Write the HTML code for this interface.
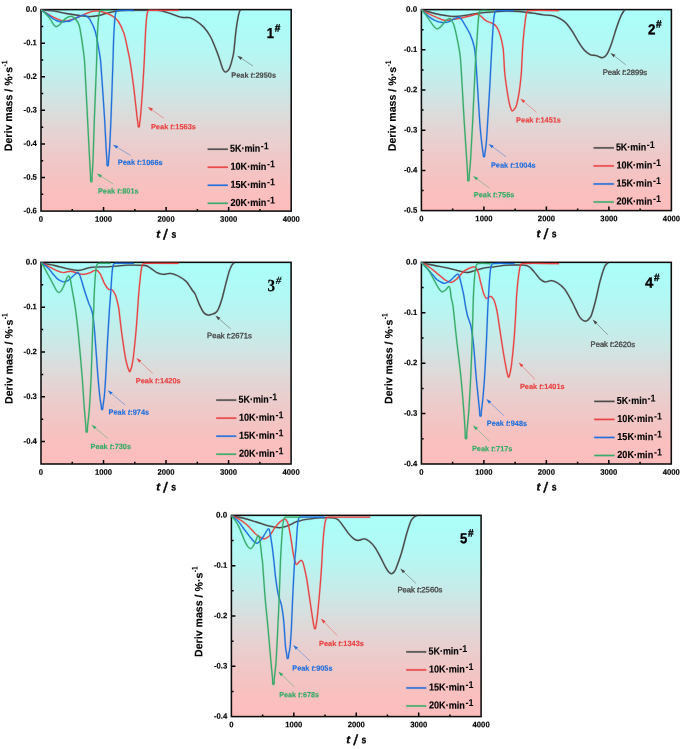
<!DOCTYPE html>
<html><head><meta charset="utf-8"><title>Deriv mass curves</title>
<style>html,body{margin:0;padding:0;background:#fff}svg{display:block}text{font-family:"Liberation Sans", sans-serif}text.sf{font-family:"Liberation Serif",serif}</style></head><body>
<svg width="685" height="749" viewBox="0 0 685 749">
<defs><linearGradient id="bg" x1="0" y1="0" x2="0" y2="1"><stop offset="0" stop-color="#AAFFFA"/><stop offset="0.05" stop-color="#ACFDF8"/><stop offset="0.1" stop-color="#AFFBF7"/><stop offset="0.15" stop-color="#B1F9F5"/><stop offset="0.2" stop-color="#B5F7F3"/><stop offset="0.25" stop-color="#B9F4F0"/><stop offset="0.3" stop-color="#BFF0ED"/><stop offset="0.35" stop-color="#C5ECEA"/><stop offset="0.4" stop-color="#CBE8E6"/><stop offset="0.45" stop-color="#D2E3E2"/><stop offset="0.5" stop-color="#D8DEDD"/><stop offset="0.55" stop-color="#DED9D8"/><stop offset="0.6" stop-color="#E4D4D4"/><stop offset="0.65" stop-color="#E8D0CF"/><stop offset="0.7" stop-color="#ECCBCB"/><stop offset="0.75" stop-color="#F0C8C7"/><stop offset="0.8" stop-color="#F3C4C4"/><stop offset="0.85" stop-color="#F6C2C1"/><stop offset="0.9" stop-color="#F9C0BF"/><stop offset="0.95" stop-color="#FBBEBE"/><stop offset="1" stop-color="#FDBCBC"/></linearGradient></defs>
<rect width="685" height="749" fill="#fff"/>
<g>
<rect x="41" y="9.6" width="250.2" height="201.5" fill="url(#bg)"/>
<path d="M72.28 211.1 v-2.2M103.55 211.1 v-4M134.82 211.1 v-2.2M166.1 211.1 v-4M197.38 211.1 v-2.2M228.65 211.1 v-4M259.92 211.1 v-2.2M41 26.39 h2.2M41 43.18 h4M41 59.98 h2.2M41 76.77 h4M41 93.56 h2.2M41 110.35 h4M41 127.14 h2.2M41 143.93 h4M41 160.73 h2.2M41 177.52 h4M41 194.31 h2.2" stroke="#000" stroke-width="1.5" fill="none"/>
<rect x="41" y="9.6" width="250.2" height="201.5" fill="none" stroke="#0d0d0d" stroke-width="1.55"/>
<path d="M41.2 9.9C43.18 10.07 48.92 10.3 53.1 10.9C57.28 11.5 61.92 12.73 66.3 13.5C70.68 14.27 75.47 14.98 79.4 15.5C83.33 16.02 86.62 16.6 89.9 16.6C93.18 16.6 96.47 16.02 99.1 15.5C101.73 14.98 103.28 14.15 105.7 13.5C108.12 12.85 110.88 12.09 113.6 11.6C116.32 11.11 118.62 10.74 122 10.55C125.4 10.36 129.2 10.46 134 10.45C139.98 10.43 152.17 10.04 157.9 10.45C162.2 10.76 165.12 11.94 168.4 12.9C171.68 13.86 175.2 15.43 177.6 16.2C179.64 16.85 180.83 17.25 182.8 17.5C184.77 17.75 187.2 17.15 189.4 17.7C191.6 18.25 193.6 19.2 196 20.8C198.4 22.4 201.4 24.68 203.8 27.3C206.2 29.92 208.53 33.22 210.4 36.5C212.27 39.78 213.72 43.93 215 47C216.28 50.07 217.13 52.22 218.1 54.9C219.07 57.58 219.98 60.67 220.8 63.1C221.62 65.53 222.23 68 223 69.5C223.64 70.76 224.57 71.93 225.4 72.1C226.23 72.27 227.23 71.33 228 70.5C228.77 69.67 229.46 68.58 230 67.1C230.77 65 231.95 60.58 232.6 57.9C233.25 55.22 233.55 53.79 233.9 51C234.45 46.57 235.23 36.78 235.9 31.3C236.54 26 237.28 21.45 237.9 18.1C238.41 15.3 239.08 12.53 239.6 11.2C239.86 10.54 240.77 10.28 241 10.1" stroke="#4A4A4A" stroke-width="2.1" stroke-opacity="0.22" fill="none" stroke-linejoin="round"/>
<path d="M41.2 9.9C43.18 10.07 48.92 10.3 53.1 10.9C57.28 11.5 61.92 12.73 66.3 13.5C70.68 14.27 75.47 14.98 79.4 15.5C83.33 16.02 86.62 16.6 89.9 16.6C93.18 16.6 96.47 16.02 99.1 15.5C101.73 14.98 103.28 14.15 105.7 13.5C108.12 12.85 110.88 12.09 113.6 11.6C116.32 11.11 118.62 10.74 122 10.55C125.4 10.36 129.2 10.46 134 10.45C139.98 10.43 152.17 10.04 157.9 10.45C162.2 10.76 165.12 11.94 168.4 12.9C171.68 13.86 175.2 15.43 177.6 16.2C179.64 16.85 180.83 17.25 182.8 17.5C184.77 17.75 187.2 17.15 189.4 17.7C191.6 18.25 193.6 19.2 196 20.8C198.4 22.4 201.4 24.68 203.8 27.3C206.2 29.92 208.53 33.22 210.4 36.5C212.27 39.78 213.72 43.93 215 47C216.28 50.07 217.13 52.22 218.1 54.9C219.07 57.58 219.98 60.67 220.8 63.1C221.62 65.53 222.23 68 223 69.5C223.64 70.76 224.57 71.93 225.4 72.1C226.23 72.27 227.23 71.33 228 70.5C228.77 69.67 229.46 68.58 230 67.1C230.77 65 231.95 60.58 232.6 57.9C233.25 55.22 233.55 53.79 233.9 51C234.45 46.57 235.23 36.78 235.9 31.3C236.54 26 237.28 21.45 237.9 18.1C238.41 15.3 239.08 12.53 239.6 11.2C239.86 10.54 240.77 10.28 241 10.1" stroke="#4A4A4A" stroke-width="1.35" fill="none" stroke-linejoin="round"/>
<path d="M41.2 9.9C42.17 10.5 45.03 12.32 47 13.5C48.97 14.68 50.83 15.92 53 17C55.17 18.08 57.78 19.33 60 20C62.22 20.67 64.3 21.08 66.3 21C68.3 20.92 69.82 20.23 72 19.5C74.18 18.77 76.46 17.8 79.4 16.6C82.38 15.38 87.05 13.15 89.9 12.2C92.45 11.35 93.87 10.78 96.5 10.9C99.13 11.02 102.85 11.92 105.7 12.9C108.55 13.88 111.42 15.27 113.6 16.8C115.78 18.33 117.25 19.57 118.8 22.1C120.55 24.95 122.57 29.08 124.1 33.9C125.63 38.72 127.02 46.48 128 51C128.87 54.99 129.36 56.97 130 61C130.93 66.88 132.68 79.3 133.6 86.3C134.47 92.97 134.92 97.8 135.5 103C136.08 108.2 136.67 113.95 137.1 117.5C137.43 120.23 137.94 122.95 138.1 124.3C138.16 124.82 138 125.18 138.05 125.6C138.1 126.03 138.21 126.64 138.4 126.85C138.59 127.06 139.01 127.06 139.2 126.85C139.39 126.64 139.5 126.03 139.55 125.6C139.6 125.18 139.45 124.82 139.5 124.3C139.64 122.95 140.13 120.23 140.4 117.5C140.75 113.95 141.2 108.25 141.6 103C142 97.75 142.37 92.8 142.8 86C143.23 79.17 143.83 69 144.2 62C144.57 55 144.7 50.22 145 44C145.3 37.78 145.62 29.87 146 24.7C146.35 20 146.8 15.38 147.3 13C147.55 11.8 147.78 10.55 149 10.45C154.27 10.02 173.92 10.45 178.9 10.45" stroke="#E94242" stroke-width="2.1" stroke-opacity="0.22" fill="none" stroke-linejoin="round"/>
<path d="M41.2 9.9C42.17 10.5 45.03 12.32 47 13.5C48.97 14.68 50.83 15.92 53 17C55.17 18.08 57.78 19.33 60 20C62.22 20.67 64.3 21.08 66.3 21C68.3 20.92 69.82 20.23 72 19.5C74.18 18.77 76.46 17.8 79.4 16.6C82.38 15.38 87.05 13.15 89.9 12.2C92.45 11.35 93.87 10.78 96.5 10.9C99.13 11.02 102.85 11.92 105.7 12.9C108.55 13.88 111.42 15.27 113.6 16.8C115.78 18.33 117.25 19.57 118.8 22.1C120.55 24.95 122.57 29.08 124.1 33.9C125.63 38.72 127.02 46.48 128 51C128.87 54.99 129.36 56.97 130 61C130.93 66.88 132.68 79.3 133.6 86.3C134.47 92.97 134.92 97.8 135.5 103C136.08 108.2 136.67 113.95 137.1 117.5C137.43 120.23 137.94 122.95 138.1 124.3C138.16 124.82 138 125.18 138.05 125.6C138.1 126.03 138.21 126.64 138.4 126.85C138.59 127.06 139.01 127.06 139.2 126.85C139.39 126.64 139.5 126.03 139.55 125.6C139.6 125.18 139.45 124.82 139.5 124.3C139.64 122.95 140.13 120.23 140.4 117.5C140.75 113.95 141.2 108.25 141.6 103C142 97.75 142.37 92.8 142.8 86C143.23 79.17 143.83 69 144.2 62C144.57 55 144.7 50.22 145 44C145.3 37.78 145.62 29.87 146 24.7C146.35 20 146.8 15.38 147.3 13C147.55 11.8 147.78 10.55 149 10.45C154.27 10.02 173.92 10.45 178.9 10.45" stroke="#E94242" stroke-width="1.25" fill="none" stroke-linejoin="round"/>
<path d="M41.2 9.9C42.17 10.58 45.2 12.65 47 14C48.8 15.35 50.33 16.87 52 18C53.67 19.13 55.38 20.17 57 20.8C58.62 21.43 60.2 21.68 61.7 21.8C63.2 21.92 64.58 21.67 66 21.5C67.42 21.33 68.59 21.36 70.2 20.8C71.87 20.22 74.03 18.88 76 18C77.97 17.12 80.58 15.95 82 15.5C82.96 15.2 83.67 15.13 84.5 15.3C85.33 15.47 86.12 15.82 87 16.5C87.9 17.2 89.09 18.04 89.9 19.5C91.27 21.97 93.75 26.33 95.2 31.3C96.73 36.55 98.18 45.88 99.1 51C99.88 55.38 100.34 57.57 100.7 62C101.6 73.08 103.6 103.18 104.5 117.5C105.26 129.65 105.68 140.57 106.1 147.9C106.41 153.34 106.86 158.75 107 161.5C107.06 162.66 106.9 163.71 106.95 164.4C106.99 164.92 107.11 165.44 107.3 165.65C107.49 165.86 107.91 165.86 108.1 165.65C108.29 165.44 108.4 164.92 108.45 164.4C108.52 163.71 108.42 162.66 108.5 161.5C108.69 158.75 109.29 153.35 109.6 147.9C110.02 140.65 110.54 129.96 111 118C111.57 103.35 112.55 73.37 113 60C113.3 51.12 113.38 44.78 113.7 37.8C114.02 30.82 114.52 22.4 114.9 18.1C115.12 15.63 115.57 13.28 116 12C116.28 11.18 116.64 10.52 117.5 10.45C120.53 10.19 131.42 10.45 134.2 10.45" stroke="#1F6FDC" stroke-width="2.1" stroke-opacity="0.22" fill="none" stroke-linejoin="round"/>
<path d="M41.2 9.9C42.17 10.58 45.2 12.65 47 14C48.8 15.35 50.33 16.87 52 18C53.67 19.13 55.38 20.17 57 20.8C58.62 21.43 60.2 21.68 61.7 21.8C63.2 21.92 64.58 21.67 66 21.5C67.42 21.33 68.59 21.36 70.2 20.8C71.87 20.22 74.03 18.88 76 18C77.97 17.12 80.58 15.95 82 15.5C82.96 15.2 83.67 15.13 84.5 15.3C85.33 15.47 86.12 15.82 87 16.5C87.9 17.2 89.09 18.04 89.9 19.5C91.27 21.97 93.75 26.33 95.2 31.3C96.73 36.55 98.18 45.88 99.1 51C99.88 55.38 100.34 57.57 100.7 62C101.6 73.08 103.6 103.18 104.5 117.5C105.26 129.65 105.68 140.57 106.1 147.9C106.41 153.34 106.86 158.75 107 161.5C107.06 162.66 106.9 163.71 106.95 164.4C106.99 164.92 107.11 165.44 107.3 165.65C107.49 165.86 107.91 165.86 108.1 165.65C108.29 165.44 108.4 164.92 108.45 164.4C108.52 163.71 108.42 162.66 108.5 161.5C108.69 158.75 109.29 153.35 109.6 147.9C110.02 140.65 110.54 129.96 111 118C111.57 103.35 112.55 73.37 113 60C113.3 51.12 113.38 44.78 113.7 37.8C114.02 30.82 114.52 22.4 114.9 18.1C115.12 15.63 115.57 13.28 116 12C116.28 11.18 116.64 10.52 117.5 10.45C120.53 10.19 131.42 10.45 134.2 10.45" stroke="#1F6FDC" stroke-width="1.25" fill="none" stroke-linejoin="round"/>
<path d="M41.2 9.9C41.92 10.5 43.95 11.9 45.5 13.5C47.05 15.1 49.17 17.67 50.5 19.5C51.83 21.33 52.58 23.3 53.5 24.5C54.31 25.56 55.08 26.58 56 26.7C56.92 26.82 57.96 26.05 59 25.2C60.17 24.25 61.67 22.27 63 21C64.33 19.73 65.58 18.37 67 17.6C68.42 16.83 70.08 16.17 71.5 16.4C72.92 16.63 74.29 17.53 75.5 19C76.82 20.6 78.63 22.89 79.4 26C80.72 31.33 82.53 45 83.4 51C84.03 55.38 84.33 57.58 84.6 62C85.28 73.17 86.65 101.5 87.5 118C88.35 134.5 89.18 151.17 89.7 161C90.04 167.4 90.46 173.77 90.6 177C90.66 178.36 90.5 179.62 90.55 180.4C90.58 180.92 90.71 181.44 90.9 181.65C91.09 181.86 91.51 181.86 91.7 181.65C91.89 181.44 92.02 180.92 92.05 180.4C92.1 179.62 91.93 178.36 92 177C92.16 173.77 92.74 167.41 93 161C93.4 151.17 93.8 134.5 94.4 118C95 101.5 96.13 75.37 96.6 62C96.94 52.32 96.88 45.12 97.2 37.8C97.52 30.48 98.1 22.4 98.5 18.1C98.73 15.63 99.18 13.28 99.6 12C99.86 11.21 100.17 10.56 101 10.45C102.9 10.19 109.33 10.45 111 10.45" stroke="#37AB69" stroke-width="2.1" stroke-opacity="0.22" fill="none" stroke-linejoin="round"/>
<path d="M41.2 9.9C41.92 10.5 43.95 11.9 45.5 13.5C47.05 15.1 49.17 17.67 50.5 19.5C51.83 21.33 52.58 23.3 53.5 24.5C54.31 25.56 55.08 26.58 56 26.7C56.92 26.82 57.96 26.05 59 25.2C60.17 24.25 61.67 22.27 63 21C64.33 19.73 65.58 18.37 67 17.6C68.42 16.83 70.08 16.17 71.5 16.4C72.92 16.63 74.29 17.53 75.5 19C76.82 20.6 78.63 22.89 79.4 26C80.72 31.33 82.53 45 83.4 51C84.03 55.38 84.33 57.58 84.6 62C85.28 73.17 86.65 101.5 87.5 118C88.35 134.5 89.18 151.17 89.7 161C90.04 167.4 90.46 173.77 90.6 177C90.66 178.36 90.5 179.62 90.55 180.4C90.58 180.92 90.71 181.44 90.9 181.65C91.09 181.86 91.51 181.86 91.7 181.65C91.89 181.44 92.02 180.92 92.05 180.4C92.1 179.62 91.93 178.36 92 177C92.16 173.77 92.74 167.41 93 161C93.4 151.17 93.8 134.5 94.4 118C95 101.5 96.13 75.37 96.6 62C96.94 52.32 96.88 45.12 97.2 37.8C97.52 30.48 98.1 22.4 98.5 18.1C98.73 15.63 99.18 13.28 99.6 12C99.86 11.21 100.17 10.56 101 10.45C102.9 10.19 109.33 10.45 111 10.45" stroke="#37AB69" stroke-width="1.25" fill="none" stroke-linejoin="round"/>
<text transform="translate(36.9 11.8) matrix(1 0.003 0 1 0 0)" font-size="8" font-weight="bold" fill="#000" text-anchor="end" textLength="11.2" lengthAdjust="spacingAndGlyphs" stroke="#000" stroke-width="0.15">0.0</text>
<text transform="translate(36.9 45.38) matrix(1 0.003 0 1 0 0)" font-size="8" font-weight="bold" fill="#000" text-anchor="end" textLength="13.3" lengthAdjust="spacingAndGlyphs" stroke="#000" stroke-width="0.15">-0.1</text>
<text transform="translate(36.9 78.97) matrix(1 0.003 0 1 0 0)" font-size="8" font-weight="bold" fill="#000" text-anchor="end" textLength="13.3" lengthAdjust="spacingAndGlyphs" stroke="#000" stroke-width="0.15">-0.2</text>
<text transform="translate(36.9 112.55) matrix(1 0.003 0 1 0 0)" font-size="8" font-weight="bold" fill="#000" text-anchor="end" textLength="13.3" lengthAdjust="spacingAndGlyphs" stroke="#000" stroke-width="0.15">-0.3</text>
<text transform="translate(36.9 146.13) matrix(1 0.003 0 1 0 0)" font-size="8" font-weight="bold" fill="#000" text-anchor="end" textLength="13.3" lengthAdjust="spacingAndGlyphs" stroke="#000" stroke-width="0.15">-0.4</text>
<text transform="translate(36.9 179.72) matrix(1 0.003 0 1 0 0)" font-size="8" font-weight="bold" fill="#000" text-anchor="end" textLength="13.3" lengthAdjust="spacingAndGlyphs" stroke="#000" stroke-width="0.15">-0.5</text>
<text transform="translate(36.9 213.3) matrix(1 0.003 0 1 0 0)" font-size="8" font-weight="bold" fill="#000" text-anchor="end" textLength="13.3" lengthAdjust="spacingAndGlyphs" stroke="#000" stroke-width="0.15">-0.6</text>
<text transform="translate(41 221.8) matrix(1 0.003 0 1 0 0)" font-size="8" font-weight="bold" fill="#000" text-anchor="middle" textLength="4.3" lengthAdjust="spacingAndGlyphs" stroke="#000" stroke-width="0.15">0</text>
<text transform="translate(103.55 221.8) matrix(1 0.003 0 1 0 0)" font-size="8" font-weight="bold" fill="#000" text-anchor="middle" textLength="17.1" lengthAdjust="spacingAndGlyphs" stroke="#000" stroke-width="0.15">1000</text>
<text transform="translate(166.1 221.8) matrix(1 0.003 0 1 0 0)" font-size="8" font-weight="bold" fill="#000" text-anchor="middle" textLength="17.1" lengthAdjust="spacingAndGlyphs" stroke="#000" stroke-width="0.15">2000</text>
<text transform="translate(228.65 221.8) matrix(1 0.003 0 1 0 0)" font-size="8" font-weight="bold" fill="#000" text-anchor="middle" textLength="17.1" lengthAdjust="spacingAndGlyphs" stroke="#000" stroke-width="0.15">3000</text>
<text transform="translate(291.2 221.8) matrix(1 0.003 0 1 0 0)" font-size="8" font-weight="bold" fill="#000" text-anchor="middle" textLength="17.1" lengthAdjust="spacingAndGlyphs" stroke="#000" stroke-width="0.15">4000</text>
<text transform="translate(156.2 237.7) matrix(1 0.003 0 1 0 0)" font-size="11" font-weight="bold" fill="#000" textLength="3.9" lengthAdjust="spacingAndGlyphs" font-style="italic" stroke="#000" stroke-width="0.3">t</text>
<text transform="translate(163.1 239.5) matrix(1 0.003 0 1 0 0)" font-size="14.5" font-weight="normal" fill="#000" textLength="4.9" lengthAdjust="spacingAndGlyphs" stroke="#000" stroke-width="0.3">/</text>
<text transform="translate(171.4 237.7) matrix(1 0.003 0 1 0 0)" font-size="10.6" font-weight="bold" fill="#000" textLength="4.8" lengthAdjust="spacingAndGlyphs" stroke="#000" stroke-width="0.3">s</text>
<g transform="translate(12 151.2) rotate(-90)">
<text transform="translate(0 0) matrix(1 0.003 0 1 0 0)" font-size="10.8" font-weight="bold" fill="#000" textLength="84.3" lengthAdjust="spacingAndGlyphs" stroke="#000" stroke-width="0.15">Deriv mass / %·s</text>
<text transform="translate(84.7 -4.8) matrix(1 0.003 0 1 0 0)" font-size="8.2" font-weight="bold" fill="#000" textLength="6" lengthAdjust="spacingAndGlyphs">-1</text>
</g>
<path d="M207.6 149.2 H227.9" stroke="#4A4A4A" stroke-width="2.3" stroke-opacity="0.25"/>
<path d="M207.6 149.2 H227.9" stroke="#4A4A4A" stroke-width="1.4"/>
<text transform="translate(230 151.8) matrix(1 0.003 0 1 0 0)" font-size="10.2" font-weight="bold" fill="#000" textLength="30.3" lengthAdjust="spacingAndGlyphs" stroke="#000" stroke-width="0.15">5K·min</text>
<text transform="translate(260.8 149.3) matrix(1 0.003 0 1 0 0)" font-size="9.9" font-weight="bold" fill="#000" textLength="8" lengthAdjust="spacingAndGlyphs">-1</text>
<path d="M207.6 167.23 H227.9" stroke="#E94242" stroke-width="2.3" stroke-opacity="0.25"/>
<path d="M207.6 167.23 H227.9" stroke="#E94242" stroke-width="1.4"/>
<text transform="translate(230.5 169.83) matrix(1 0.003 0 1 0 0)" font-size="10.2" font-weight="bold" fill="#000" textLength="35.9" lengthAdjust="spacingAndGlyphs" stroke="#000" stroke-width="0.15">10K·min</text>
<text transform="translate(267.1 167.33) matrix(1 0.003 0 1 0 0)" font-size="9.9" font-weight="bold" fill="#000" textLength="8" lengthAdjust="spacingAndGlyphs">-1</text>
<path d="M207.6 185.26 H227.9" stroke="#1F6FDC" stroke-width="2.3" stroke-opacity="0.25"/>
<path d="M207.6 185.26 H227.9" stroke="#1F6FDC" stroke-width="1.4"/>
<text transform="translate(230.5 187.86) matrix(1 0.003 0 1 0 0)" font-size="10.2" font-weight="bold" fill="#000" textLength="35.9" lengthAdjust="spacingAndGlyphs" stroke="#000" stroke-width="0.15">15K·min</text>
<text transform="translate(267.1 185.36) matrix(1 0.003 0 1 0 0)" font-size="9.9" font-weight="bold" fill="#000" textLength="8" lengthAdjust="spacingAndGlyphs">-1</text>
<path d="M207.6 203.29 H227.9" stroke="#37AB69" stroke-width="2.3" stroke-opacity="0.25"/>
<path d="M207.6 203.29 H227.9" stroke="#37AB69" stroke-width="1.4"/>
<text transform="translate(230.5 205.89) matrix(1 0.003 0 1 0 0)" font-size="10.2" font-weight="bold" fill="#000" textLength="35.9" lengthAdjust="spacingAndGlyphs" stroke="#000" stroke-width="0.15">20K·min</text>
<text transform="translate(267.1 203.39) matrix(1 0.003 0 1 0 0)" font-size="9.9" font-weight="bold" fill="#000" textLength="8" lengthAdjust="spacingAndGlyphs">-1</text>
<text transform="translate(266.8 38.1) matrix(1 0.003 0 1 0 0)" font-size="14.5" font-weight="bold" fill="#000" textLength="7.2" lengthAdjust="spacingAndGlyphs" stroke="#000" stroke-width="0.3">1</text>
<text transform="translate(274.7 31.5) matrix(1 0.003 0 1 0 0)" font-size="10.5" font-weight="bold" fill="#000" textLength="5.6" lengthAdjust="spacingAndGlyphs" stroke="#000" stroke-width="0.35">#</text>
<text transform="translate(231.3 77.6) matrix(1 0.003 0 1 0 0)" font-size="7.6" font-weight="bold" fill="#4A4A4A" textLength="44.7" lengthAdjust="spacingAndGlyphs" stroke="#4A4A4A" stroke-width="0.15">Peak <tspan font-style="italic">t</tspan>:2950s</text>
<path d="M253 66 L241.56 58.54" stroke="#4A4A4A" stroke-width="0.45" fill="none"/>
<path d="M237.2 55.7L240.68 59.88L242.43 57.2Z" fill="#4A4A4A"/>
<text transform="translate(150.9 129.2) matrix(1 0.003 0 1 0 0)" font-size="7.6" font-weight="bold" fill="#E94242" textLength="45.1" lengthAdjust="spacingAndGlyphs" stroke="#E94242" stroke-width="0.15">Peak <tspan font-style="italic">t</tspan>:1563s</text>
<path d="M163.9 118.3 L152.04 109.9" stroke="#E94242" stroke-width="0.45" fill="none"/>
<path d="M147.8 106.9L151.12 111.21L152.97 108.6Z" fill="#E94242"/>
<text transform="translate(117.7 164.8) matrix(1 0.003 0 1 0 0)" font-size="7.6" font-weight="bold" fill="#1F6FDC" textLength="45" lengthAdjust="spacingAndGlyphs" stroke="#1F6FDC" stroke-width="0.15">Peak <tspan font-style="italic">t</tspan>:1066s</text>
<path d="M130.6 155.4 L117.35 147.39" stroke="#1F6FDC" stroke-width="0.45" fill="none"/>
<path d="M112.9 144.7L116.52 148.76L118.18 146.02Z" fill="#1F6FDC"/>
<text transform="translate(97.9 193.5) matrix(1 0.003 0 1 0 0)" font-size="7.6" font-weight="bold" fill="#37AB69" textLength="40.8" lengthAdjust="spacingAndGlyphs" stroke="#37AB69" stroke-width="0.15">Peak <tspan font-style="italic">t</tspan>:801s</text>
<path d="M113.2 184 L101.1 176.37" stroke="#37AB69" stroke-width="0.45" fill="none"/>
<path d="M96.7 173.6L100.25 177.73L101.95 175.02Z" fill="#37AB69"/>
</g>
<g>
<rect x="421.4" y="9.6" width="250" height="201" fill="url(#bg)"/>
<path d="M452.65 210.6 v-2.2M483.9 210.6 v-4M515.15 210.6 v-2.2M546.4 210.6 v-4M577.65 210.6 v-2.2M608.9 210.6 v-4M640.15 210.6 v-2.2M421.4 29.7 h2.2M421.4 49.8 h4M421.4 69.9 h2.2M421.4 90 h4M421.4 110.1 h2.2M421.4 130.2 h4M421.4 150.3 h2.2M421.4 170.4 h4M421.4 190.5 h2.2" stroke="#000" stroke-width="1.5" fill="none"/>
<rect x="421.4" y="9.6" width="250" height="201" fill="none" stroke="#0d0d0d" stroke-width="1.55"/>
<path d="M421.5 9.8C423.7 10.42 430.3 12.48 434.7 13.5C439.1 14.52 444.62 15.4 447.9 15.9C450.48 16.29 451.79 16.61 454.4 16.5C457.68 16.37 463.65 15.65 467.6 15.1C471.55 14.55 473.86 13.72 478.1 13.2C482.47 12.67 489.32 12.23 493.8 11.9C498.28 11.57 500.68 11.27 505 11.2C509.32 11.13 515.05 11.17 519.7 11.5C524.35 11.83 528.95 12.65 532.9 13.2C536.85 13.75 540.12 14.38 543.4 14.8C546.68 15.22 549.98 15.15 552.6 15.7C555.22 16.25 556.92 16.93 559.1 18.1C561.28 19.27 563.5 20.5 565.7 22.7C567.9 24.9 570.12 28.02 572.3 31.3C574.48 34.58 576.82 39.28 578.8 42.4C580.78 45.52 582.32 47.97 584.2 50C586.08 52.03 588.12 53.67 590.1 54.6C592.08 55.53 594.02 55.08 596.1 55.6C598.18 56.12 600.78 57.95 602.6 57.7C604.42 57.45 605.78 56.02 607 54.1C608.47 51.8 609.89 48.08 611.4 43.9C612.98 39.52 614.92 32.43 616.5 27.8C618.08 23.17 619.73 18.82 620.9 16.1C621.73 14.16 622.82 12.5 623.5 11.5C623.96 10.82 624.75 10.33 625 10.1" stroke="#4A4A4A" stroke-width="2.1" stroke-opacity="0.22" fill="none" stroke-linejoin="round"/>
<path d="M421.5 9.8C423.7 10.42 430.3 12.48 434.7 13.5C439.1 14.52 444.62 15.4 447.9 15.9C450.48 16.29 451.79 16.61 454.4 16.5C457.68 16.37 463.65 15.65 467.6 15.1C471.55 14.55 473.86 13.72 478.1 13.2C482.47 12.67 489.32 12.23 493.8 11.9C498.28 11.57 500.68 11.27 505 11.2C509.32 11.13 515.05 11.17 519.7 11.5C524.35 11.83 528.95 12.65 532.9 13.2C536.85 13.75 540.12 14.38 543.4 14.8C546.68 15.22 549.98 15.15 552.6 15.7C555.22 16.25 556.92 16.93 559.1 18.1C561.28 19.27 563.5 20.5 565.7 22.7C567.9 24.9 570.12 28.02 572.3 31.3C574.48 34.58 576.82 39.28 578.8 42.4C580.78 45.52 582.32 47.97 584.2 50C586.08 52.03 588.12 53.67 590.1 54.6C592.08 55.53 594.02 55.08 596.1 55.6C598.18 56.12 600.78 57.95 602.6 57.7C604.42 57.45 605.78 56.02 607 54.1C608.47 51.8 609.89 48.08 611.4 43.9C612.98 39.52 614.92 32.43 616.5 27.8C618.08 23.17 619.73 18.82 620.9 16.1C621.73 14.16 622.82 12.5 623.5 11.5C623.96 10.82 624.75 10.33 625 10.1" stroke="#4A4A4A" stroke-width="1.35" fill="none" stroke-linejoin="round"/>
<path d="M421.5 9.8C422.6 10.42 425.85 12.33 428.1 13.5C430.35 14.67 432.8 15.82 435 16.8C437.2 17.78 439.6 18.82 441.3 19.4C442.81 19.92 443.6 20.29 445.2 20.3C446.98 20.32 449.37 19.87 452 19.5C454.63 19.13 457.97 18.7 461 18.1C464.03 17.5 467.57 16.55 470.2 15.9C472.83 15.25 475.05 14.17 476.8 14.2C478.53 14.23 479.28 15.1 480.7 16.1C482.23 17.18 484.03 19.48 486 20.7C487.97 21.92 490.75 22.4 492.5 23.4C494.25 24.4 495.39 24.95 496.5 26.7C497.82 28.78 499.32 32.4 500.4 35.9C501.48 39.4 502.43 44.18 503 47.7C503.57 51.22 503.54 53.28 503.8 57C504.12 61.5 504.18 68.03 504.9 74.7C505.62 81.37 507.25 91.78 508.1 97C508.69 100.63 509.35 103.7 510 106C510.57 108 511.25 110.3 512 110.8C512.75 111.3 513.74 109.97 514.5 109C515.27 108.02 516.11 106.68 516.6 104.9C517.38 102.03 518.43 96.83 519.2 91.8C519.97 86.77 520.73 80 521.2 74.7C521.67 69.4 521.7 65.38 522 60C522.3 54.62 522.5 48.62 523 42.4C523.5 36.18 524.4 27.68 525 22.7C525.49 18.6 526.05 14.52 526.6 12.5C526.87 11.52 527.28 10.66 528.3 10.6C533.72 10.28 553.97 10.6 559.1 10.6" stroke="#E94242" stroke-width="2.1" stroke-opacity="0.22" fill="none" stroke-linejoin="round"/>
<path d="M421.5 9.8C422.6 10.42 425.85 12.33 428.1 13.5C430.35 14.67 432.8 15.82 435 16.8C437.2 17.78 439.6 18.82 441.3 19.4C442.81 19.92 443.6 20.29 445.2 20.3C446.98 20.32 449.37 19.87 452 19.5C454.63 19.13 457.97 18.7 461 18.1C464.03 17.5 467.57 16.55 470.2 15.9C472.83 15.25 475.05 14.17 476.8 14.2C478.53 14.23 479.28 15.1 480.7 16.1C482.23 17.18 484.03 19.48 486 20.7C487.97 21.92 490.75 22.4 492.5 23.4C494.25 24.4 495.39 24.95 496.5 26.7C497.82 28.78 499.32 32.4 500.4 35.9C501.48 39.4 502.43 44.18 503 47.7C503.57 51.22 503.54 53.28 503.8 57C504.12 61.5 504.18 68.03 504.9 74.7C505.62 81.37 507.25 91.78 508.1 97C508.69 100.63 509.35 103.7 510 106C510.57 108 511.25 110.3 512 110.8C512.75 111.3 513.74 109.97 514.5 109C515.27 108.02 516.11 106.68 516.6 104.9C517.38 102.03 518.43 96.83 519.2 91.8C519.97 86.77 520.73 80 521.2 74.7C521.67 69.4 521.7 65.38 522 60C522.3 54.62 522.5 48.62 523 42.4C523.5 36.18 524.4 27.68 525 22.7C525.49 18.6 526.05 14.52 526.6 12.5C526.87 11.52 527.28 10.66 528.3 10.6C533.72 10.28 553.97 10.6 559.1 10.6" stroke="#E94242" stroke-width="1.25" fill="none" stroke-linejoin="round"/>
<path d="M421.5 9.8C422.6 10.85 425.85 14.32 428.1 16.1C430.35 17.88 432.8 19.45 435 20.5C437.2 21.55 439.15 22.15 441.3 22.4C443.45 22.65 445.87 22.52 447.9 22C449.93 21.48 451.75 20.1 453.5 19.3C455.25 18.5 457.15 17.28 458.4 17.2C459.62 17.12 460.16 17.91 461 18.8C461.87 19.72 462.65 21.08 463.6 22.7C465.13 25.32 468.45 30.55 470.2 34.5C471.95 38.45 473.2 42.48 474.1 46.4C475 50.32 475.19 53.34 475.6 58C476.12 63.82 476.6 71.98 477.2 81.3C477.9 92.13 479.03 112.6 479.8 123C480.41 131.3 481.23 138.53 481.8 143.7C482.25 147.83 482.96 152.05 483.2 154C483.27 154.56 483.18 154.96 483.25 155.4C483.32 155.84 483.41 156.44 483.6 156.65C483.79 156.86 484.21 156.86 484.4 156.65C484.59 156.44 484.68 155.84 484.75 155.4C484.82 154.96 484.73 154.56 484.8 154C485.04 152.05 485.83 147.84 486.2 143.7C486.67 138.53 487.08 131.28 487.6 123C488.18 113.7 489.1 98.57 489.7 87.9C490.3 77.23 490.73 67.67 491.2 59C491.67 50.33 492.07 42.6 492.5 35.9C492.93 29.2 493.38 22.78 493.8 18.8C494.09 16.05 494.53 13.37 495 12C495.27 11.2 495.75 10.66 496.6 10.6C499.73 10.37 510.93 10.6 513.8 10.6" stroke="#1F6FDC" stroke-width="2.1" stroke-opacity="0.22" fill="none" stroke-linejoin="round"/>
<path d="M421.5 9.8C422.6 10.85 425.85 14.32 428.1 16.1C430.35 17.88 432.8 19.45 435 20.5C437.2 21.55 439.15 22.15 441.3 22.4C443.45 22.65 445.87 22.52 447.9 22C449.93 21.48 451.75 20.1 453.5 19.3C455.25 18.5 457.15 17.28 458.4 17.2C459.62 17.12 460.16 17.91 461 18.8C461.87 19.72 462.65 21.08 463.6 22.7C465.13 25.32 468.45 30.55 470.2 34.5C471.95 38.45 473.2 42.48 474.1 46.4C475 50.32 475.19 53.34 475.6 58C476.12 63.82 476.6 71.98 477.2 81.3C477.9 92.13 479.03 112.6 479.8 123C480.41 131.3 481.23 138.53 481.8 143.7C482.25 147.83 482.96 152.05 483.2 154C483.27 154.56 483.18 154.96 483.25 155.4C483.32 155.84 483.41 156.44 483.6 156.65C483.79 156.86 484.21 156.86 484.4 156.65C484.59 156.44 484.68 155.84 484.75 155.4C484.82 154.96 484.73 154.56 484.8 154C485.04 152.05 485.83 147.84 486.2 143.7C486.67 138.53 487.08 131.28 487.6 123C488.18 113.7 489.1 98.57 489.7 87.9C490.3 77.23 490.73 67.67 491.2 59C491.67 50.33 492.07 42.6 492.5 35.9C492.93 29.2 493.38 22.78 493.8 18.8C494.09 16.05 494.53 13.37 495 12C495.27 11.2 495.75 10.66 496.6 10.6C499.73 10.37 510.93 10.6 513.8 10.6" stroke="#1F6FDC" stroke-width="1.25" fill="none" stroke-linejoin="round"/>
<path d="M421.5 9.8C422.25 10.67 424.42 12.88 426 15C427.58 17.12 429.58 20.5 431 22.5C432.32 24.36 433.45 25.93 434.5 27C435.45 27.96 436.22 28.98 437.3 28.9C438.38 28.82 439.73 27.72 441 26.5C442.28 25.27 443.6 22.83 445 21.5C446.4 20.17 448.23 18.58 449.4 18.5C450.57 18.42 451.25 19.77 452 21C452.83 22.37 453.76 24.31 454.4 26.7C455.47 30.7 457.38 39.62 458.4 45C459.42 50.38 460.07 53.35 460.5 59C461.48 72 463.27 106.27 464.3 123C465.2 137.56 466.13 150.57 466.7 159.4C467.13 166.04 467.54 172.65 467.7 176C467.77 177.4 467.6 178.71 467.65 179.5C467.68 180.02 467.81 180.54 468 180.75C468.19 180.96 468.61 180.96 468.8 180.75C468.99 180.54 469.11 180.02 469.15 179.5C469.22 178.71 469.1 177.4 469.2 176C469.44 172.65 470.17 166.05 470.6 159.4C471.17 150.57 471.87 137.56 472.6 123C473.43 106.27 474.9 72.43 475.6 59C475.95 52.35 476.38 48.45 476.8 42.4C477.22 36.35 477.68 27.68 478.1 22.7C478.44 18.61 478.85 14.52 479.3 12.5C479.51 11.55 479.84 10.75 480.8 10.6C482.78 10.28 489.47 10.6 491.2 10.6" stroke="#37AB69" stroke-width="2.1" stroke-opacity="0.22" fill="none" stroke-linejoin="round"/>
<path d="M421.5 9.8C422.25 10.67 424.42 12.88 426 15C427.58 17.12 429.58 20.5 431 22.5C432.32 24.36 433.45 25.93 434.5 27C435.45 27.96 436.22 28.98 437.3 28.9C438.38 28.82 439.73 27.72 441 26.5C442.28 25.27 443.6 22.83 445 21.5C446.4 20.17 448.23 18.58 449.4 18.5C450.57 18.42 451.25 19.77 452 21C452.83 22.37 453.76 24.31 454.4 26.7C455.47 30.7 457.38 39.62 458.4 45C459.42 50.38 460.07 53.35 460.5 59C461.48 72 463.27 106.27 464.3 123C465.2 137.56 466.13 150.57 466.7 159.4C467.13 166.04 467.54 172.65 467.7 176C467.77 177.4 467.6 178.71 467.65 179.5C467.68 180.02 467.81 180.54 468 180.75C468.19 180.96 468.61 180.96 468.8 180.75C468.99 180.54 469.11 180.02 469.15 179.5C469.22 178.71 469.1 177.4 469.2 176C469.44 172.65 470.17 166.05 470.6 159.4C471.17 150.57 471.87 137.56 472.6 123C473.43 106.27 474.9 72.43 475.6 59C475.95 52.35 476.38 48.45 476.8 42.4C477.22 36.35 477.68 27.68 478.1 22.7C478.44 18.61 478.85 14.52 479.3 12.5C479.51 11.55 479.84 10.75 480.8 10.6C482.78 10.28 489.47 10.6 491.2 10.6" stroke="#37AB69" stroke-width="1.25" fill="none" stroke-linejoin="round"/>
<text transform="translate(417.3 11.8) matrix(1 0.003 0 1 0 0)" font-size="8" font-weight="bold" fill="#000" text-anchor="end" textLength="11.2" lengthAdjust="spacingAndGlyphs" stroke="#000" stroke-width="0.15">0.0</text>
<text transform="translate(417.3 52) matrix(1 0.003 0 1 0 0)" font-size="8" font-weight="bold" fill="#000" text-anchor="end" textLength="13.3" lengthAdjust="spacingAndGlyphs" stroke="#000" stroke-width="0.15">-0.1</text>
<text transform="translate(417.3 92.2) matrix(1 0.003 0 1 0 0)" font-size="8" font-weight="bold" fill="#000" text-anchor="end" textLength="13.3" lengthAdjust="spacingAndGlyphs" stroke="#000" stroke-width="0.15">-0.2</text>
<text transform="translate(417.3 132.4) matrix(1 0.003 0 1 0 0)" font-size="8" font-weight="bold" fill="#000" text-anchor="end" textLength="13.3" lengthAdjust="spacingAndGlyphs" stroke="#000" stroke-width="0.15">-0.3</text>
<text transform="translate(417.3 172.6) matrix(1 0.003 0 1 0 0)" font-size="8" font-weight="bold" fill="#000" text-anchor="end" textLength="13.3" lengthAdjust="spacingAndGlyphs" stroke="#000" stroke-width="0.15">-0.4</text>
<text transform="translate(417.3 212.8) matrix(1 0.003 0 1 0 0)" font-size="8" font-weight="bold" fill="#000" text-anchor="end" textLength="13.3" lengthAdjust="spacingAndGlyphs" stroke="#000" stroke-width="0.15">-0.5</text>
<text transform="translate(421.4 221.3) matrix(1 0.003 0 1 0 0)" font-size="8" font-weight="bold" fill="#000" text-anchor="middle" textLength="4.3" lengthAdjust="spacingAndGlyphs" stroke="#000" stroke-width="0.15">0</text>
<text transform="translate(483.9 221.3) matrix(1 0.003 0 1 0 0)" font-size="8" font-weight="bold" fill="#000" text-anchor="middle" textLength="17.1" lengthAdjust="spacingAndGlyphs" stroke="#000" stroke-width="0.15">1000</text>
<text transform="translate(546.4 221.3) matrix(1 0.003 0 1 0 0)" font-size="8" font-weight="bold" fill="#000" text-anchor="middle" textLength="17.1" lengthAdjust="spacingAndGlyphs" stroke="#000" stroke-width="0.15">2000</text>
<text transform="translate(608.9 221.3) matrix(1 0.003 0 1 0 0)" font-size="8" font-weight="bold" fill="#000" text-anchor="middle" textLength="17.1" lengthAdjust="spacingAndGlyphs" stroke="#000" stroke-width="0.15">3000</text>
<text transform="translate(671.4 221.3) matrix(1 0.003 0 1 0 0)" font-size="8" font-weight="bold" fill="#000" text-anchor="middle" textLength="17.1" lengthAdjust="spacingAndGlyphs" stroke="#000" stroke-width="0.15">4000</text>
<text transform="translate(536.5 237.2) matrix(1 0.003 0 1 0 0)" font-size="11" font-weight="bold" fill="#000" textLength="3.9" lengthAdjust="spacingAndGlyphs" font-style="italic" stroke="#000" stroke-width="0.3">t</text>
<text transform="translate(543.4 239) matrix(1 0.003 0 1 0 0)" font-size="14.5" font-weight="normal" fill="#000" textLength="4.9" lengthAdjust="spacingAndGlyphs" stroke="#000" stroke-width="0.3">/</text>
<text transform="translate(551.7 237.2) matrix(1 0.003 0 1 0 0)" font-size="10.6" font-weight="bold" fill="#000" textLength="4.8" lengthAdjust="spacingAndGlyphs" stroke="#000" stroke-width="0.3">s</text>
<g transform="translate(395.7 151.2) rotate(-90)">
<text transform="translate(0 0) matrix(1 0.003 0 1 0 0)" font-size="10.8" font-weight="bold" fill="#000" textLength="84.3" lengthAdjust="spacingAndGlyphs" stroke="#000" stroke-width="0.15">Deriv mass / %·s</text>
<text transform="translate(84.7 -4.8) matrix(1 0.003 0 1 0 0)" font-size="8.2" font-weight="bold" fill="#000" textLength="6" lengthAdjust="spacingAndGlyphs">-1</text>
</g>
<path d="M593.5 147.9 H613.9" stroke="#4A4A4A" stroke-width="2.3" stroke-opacity="0.25"/>
<path d="M593.5 147.9 H613.9" stroke="#4A4A4A" stroke-width="1.4"/>
<text transform="translate(615.9 150.5) matrix(1 0.003 0 1 0 0)" font-size="10.2" font-weight="bold" fill="#000" textLength="30.3" lengthAdjust="spacingAndGlyphs" stroke="#000" stroke-width="0.15">5K·min</text>
<text transform="translate(646.7 148) matrix(1 0.003 0 1 0 0)" font-size="9.9" font-weight="bold" fill="#000" textLength="8" lengthAdjust="spacingAndGlyphs">-1</text>
<path d="M593.5 165.93 H613.9" stroke="#E94242" stroke-width="2.3" stroke-opacity="0.25"/>
<path d="M593.5 165.93 H613.9" stroke="#E94242" stroke-width="1.4"/>
<text transform="translate(616.4 168.53) matrix(1 0.003 0 1 0 0)" font-size="10.2" font-weight="bold" fill="#000" textLength="35.9" lengthAdjust="spacingAndGlyphs" stroke="#000" stroke-width="0.15">10K·min</text>
<text transform="translate(653 166.03) matrix(1 0.003 0 1 0 0)" font-size="9.9" font-weight="bold" fill="#000" textLength="8" lengthAdjust="spacingAndGlyphs">-1</text>
<path d="M593.5 183.96 H613.9" stroke="#1F6FDC" stroke-width="2.3" stroke-opacity="0.25"/>
<path d="M593.5 183.96 H613.9" stroke="#1F6FDC" stroke-width="1.4"/>
<text transform="translate(616.4 186.56) matrix(1 0.003 0 1 0 0)" font-size="10.2" font-weight="bold" fill="#000" textLength="35.9" lengthAdjust="spacingAndGlyphs" stroke="#000" stroke-width="0.15">15K·min</text>
<text transform="translate(653 184.06) matrix(1 0.003 0 1 0 0)" font-size="9.9" font-weight="bold" fill="#000" textLength="8" lengthAdjust="spacingAndGlyphs">-1</text>
<path d="M593.5 201.99 H613.9" stroke="#37AB69" stroke-width="2.3" stroke-opacity="0.25"/>
<path d="M593.5 201.99 H613.9" stroke="#37AB69" stroke-width="1.4"/>
<text transform="translate(616.4 204.59) matrix(1 0.003 0 1 0 0)" font-size="10.2" font-weight="bold" fill="#000" textLength="35.9" lengthAdjust="spacingAndGlyphs" stroke="#000" stroke-width="0.15">20K·min</text>
<text transform="translate(653 202.09) matrix(1 0.003 0 1 0 0)" font-size="9.9" font-weight="bold" fill="#000" textLength="8" lengthAdjust="spacingAndGlyphs">-1</text>
<text transform="translate(647.9 34.2) matrix(1 0.003 0 1 0 0)" font-size="14.5" font-weight="bold" fill="#000" textLength="7.5" lengthAdjust="spacingAndGlyphs" stroke="#000" stroke-width="0.3">2</text>
<text transform="translate(656.1 27.6) matrix(1 0.003 0 1 0 0)" font-size="10.5" font-weight="bold" fill="#000" textLength="5.6" lengthAdjust="spacingAndGlyphs" stroke="#000" stroke-width="0.35">#</text>
<text transform="translate(602.7 74.8) matrix(1 0.003 0 1 0 0)" font-size="7.6" font-weight="normal" fill="#4A4A4A" textLength="44.5" lengthAdjust="spacingAndGlyphs" stroke="#4A4A4A" stroke-width="0.35">Peak <tspan font-style="italic">t</tspan>:2899s</text>
<path d="M625.7 64.7 L614.52 56.08" stroke="#4A4A4A" stroke-width="0.45" fill="none"/>
<path d="M610.4 52.9L613.54 57.34L615.49 54.81Z" fill="#4A4A4A"/>
<text transform="translate(516.1 122.4) matrix(1 0.003 0 1 0 0)" font-size="7.6" font-weight="bold" fill="#E94242" textLength="44.9" lengthAdjust="spacingAndGlyphs" stroke="#E94242" stroke-width="0.15">Peak <tspan font-style="italic">t</tspan>:1451s</text>
<path d="M536.5 112.4 L524.25 101.89" stroke="#E94242" stroke-width="0.45" fill="none"/>
<path d="M520.3 98.5L523.2 103.1L525.29 100.67Z" fill="#E94242"/>
<text transform="translate(490.9 167.6) matrix(1 0.003 0 1 0 0)" font-size="7.6" font-weight="bold" fill="#1F6FDC" textLength="44.7" lengthAdjust="spacingAndGlyphs" stroke="#1F6FDC" stroke-width="0.15">Peak <tspan font-style="italic">t</tspan>:1004s</text>
<path d="M506.2 156.9 L492.78 146.99" stroke="#1F6FDC" stroke-width="0.45" fill="none"/>
<path d="M488.6 143.9L491.83 148.28L493.73 145.7Z" fill="#1F6FDC"/>
<text transform="translate(473.8 197.2) matrix(1 0.003 0 1 0 0)" font-size="7.6" font-weight="bold" fill="#37AB69" textLength="40.6" lengthAdjust="spacingAndGlyphs" stroke="#37AB69" stroke-width="0.15">Peak <tspan font-style="italic">t</tspan>:756s</text>
<path d="M489.5 188.2 L477.17 179.01" stroke="#37AB69" stroke-width="0.45" fill="none"/>
<path d="M473 175.9L476.21 180.29L478.13 177.73Z" fill="#37AB69"/>
</g>
<g>
<rect x="41" y="262.35" width="250.1" height="201.65" fill="url(#bg)"/>
<path d="M72.26 464 v-2.2M103.53 464 v-4M134.79 464 v-2.2M166.05 464 v-4M197.31 464 v-2.2M228.58 464 v-4M259.84 464 v-2.2M41 284.76 h2.2M41 307.16 h4M41 329.57 h2.2M41 351.97 h4M41 374.38 h2.2M41 396.78 h4M41 419.19 h2.2M41 441.59 h4" stroke="#000" stroke-width="1.5" fill="none"/>
<rect x="41" y="262.35" width="250.1" height="201.65" fill="none" stroke="#0d0d0d" stroke-width="1.55"/>
<path d="M41.3 262.8C43.53 263.25 50.27 264.5 54.7 265.5C59.13 266.5 63.95 267.97 67.9 268.8C71.85 269.63 75.12 270.62 78.4 270.5C81.68 270.38 84.98 268.67 87.6 268.1C90.17 267.54 91.48 267.27 94.1 267.1C97.38 266.88 103.82 266.95 107.3 266.8C110.39 266.67 111.92 266.44 115 266.2C118.47 265.93 123.07 265.32 128.1 265.2C133.13 265.08 141.47 265.02 145.2 265.5C147.54 265.8 148.53 266.9 150.5 268.1C152.47 269.3 154.82 271.65 157 272.7C159.18 273.75 161.4 274.28 163.6 274.4C165.8 274.52 167.78 273.13 170.2 273.4C172.62 273.67 175.47 274.68 178.1 276C180.73 277.32 183.6 278.88 186 281.3C188.4 283.72 191 288.43 192.5 290.5C193.45 291.81 194.29 292.24 195 293.7C196.15 296.05 197.93 301.43 199.4 304.6C200.87 307.77 202.35 310.95 203.8 312.7C205.06 314.22 206.82 314.83 208.1 315.1C209.38 315.37 210.28 314.67 211.5 314.3C212.72 313.93 214.25 313.78 215.4 312.9C216.55 312.02 217.57 310.78 218.4 309C219.5 306.65 220.78 302.93 222 298.8C223.22 294.67 224.48 288.82 225.7 284.2C226.92 279.58 228.22 274.35 229.3 271.1C230.19 268.43 231.37 266.07 232.2 264.7C232.78 263.74 233.95 263.16 234.3 262.85" stroke="#4A4A4A" stroke-width="2.1" stroke-opacity="0.22" fill="none" stroke-linejoin="round"/>
<path d="M41.3 262.8C43.53 263.25 50.27 264.5 54.7 265.5C59.13 266.5 63.95 267.97 67.9 268.8C71.85 269.63 75.12 270.62 78.4 270.5C81.68 270.38 84.98 268.67 87.6 268.1C90.17 267.54 91.48 267.27 94.1 267.1C97.38 266.88 103.82 266.95 107.3 266.8C110.39 266.67 111.92 266.44 115 266.2C118.47 265.93 123.07 265.32 128.1 265.2C133.13 265.08 141.47 265.02 145.2 265.5C147.54 265.8 148.53 266.9 150.5 268.1C152.47 269.3 154.82 271.65 157 272.7C159.18 273.75 161.4 274.28 163.6 274.4C165.8 274.52 167.78 273.13 170.2 273.4C172.62 273.67 175.47 274.68 178.1 276C180.73 277.32 183.6 278.88 186 281.3C188.4 283.72 191 288.43 192.5 290.5C193.45 291.81 194.29 292.24 195 293.7C196.15 296.05 197.93 301.43 199.4 304.6C200.87 307.77 202.35 310.95 203.8 312.7C205.06 314.22 206.82 314.83 208.1 315.1C209.38 315.37 210.28 314.67 211.5 314.3C212.72 313.93 214.25 313.78 215.4 312.9C216.55 312.02 217.57 310.78 218.4 309C219.5 306.65 220.78 302.93 222 298.8C223.22 294.67 224.48 288.82 225.7 284.2C226.92 279.58 228.22 274.35 229.3 271.1C230.19 268.43 231.37 266.07 232.2 264.7C232.78 263.74 233.95 263.16 234.3 262.85" stroke="#4A4A4A" stroke-width="1.35" fill="none" stroke-linejoin="round"/>
<path d="M41.3 262.8C42.43 263.37 45.43 264.87 48.1 266.2C50.77 267.53 54.77 269.75 57.3 270.8C59.6 271.76 61.1 272.4 63.3 272.5C65.5 272.6 67.98 271.25 70.5 271.4C73.02 271.55 76.22 272.9 78.4 273.4C80.46 273.87 81.63 274.52 83.6 274.4C85.57 274.28 88.23 273.42 90.2 272.7C92.17 271.98 94.1 270.33 95.4 270.1C96.53 269.9 97.13 270.55 98 271.3C98.88 272.07 99.89 273.16 100.7 274.7C101.8 276.8 103.28 281.48 104.6 283.9C105.87 286.23 107.38 288.22 108.6 289.2C109.64 290.04 110.85 288.97 111.9 289.8C113 290.67 114.31 292.32 115.2 294.4C116.18 296.7 117.17 301 117.8 303.6C118.42 306.13 118.66 307.42 119 310C119.62 314.62 120.43 323.37 121.5 331.3C122.57 339.23 124.35 351.57 125.4 357.6C126.1 361.61 127.21 365.4 127.8 367.5C128.12 368.63 128.7 369.54 128.95 370.2C129.13 370.69 129.11 371.24 129.3 371.45C129.49 371.66 129.91 371.66 130.1 371.45C130.29 371.24 130.28 370.69 130.45 370.2C130.68 369.54 131.24 368.63 131.5 367.5C131.97 365.4 132.8 361.59 133.3 357.6C134.05 351.57 135.28 339.23 136 331.3C136.72 323.37 137.15 316.15 137.6 310C138.05 303.85 138.2 300.28 138.7 294.4C139.2 288.52 140.02 279.52 140.6 274.7C141.05 270.99 141.63 267.38 142.2 265.5C142.52 264.46 142.91 263.51 144 263.45C150.08 263.11 172.92 263.45 178.7 263.45" stroke="#E94242" stroke-width="2.1" stroke-opacity="0.22" fill="none" stroke-linejoin="round"/>
<path d="M41.3 262.8C42.43 263.37 45.43 264.87 48.1 266.2C50.77 267.53 54.77 269.75 57.3 270.8C59.6 271.76 61.1 272.4 63.3 272.5C65.5 272.6 67.98 271.25 70.5 271.4C73.02 271.55 76.22 272.9 78.4 273.4C80.46 273.87 81.63 274.52 83.6 274.4C85.57 274.28 88.23 273.42 90.2 272.7C92.17 271.98 94.1 270.33 95.4 270.1C96.53 269.9 97.13 270.55 98 271.3C98.88 272.07 99.89 273.16 100.7 274.7C101.8 276.8 103.28 281.48 104.6 283.9C105.87 286.23 107.38 288.22 108.6 289.2C109.64 290.04 110.85 288.97 111.9 289.8C113 290.67 114.31 292.32 115.2 294.4C116.18 296.7 117.17 301 117.8 303.6C118.42 306.13 118.66 307.42 119 310C119.62 314.62 120.43 323.37 121.5 331.3C122.57 339.23 124.35 351.57 125.4 357.6C126.1 361.61 127.21 365.4 127.8 367.5C128.12 368.63 128.7 369.54 128.95 370.2C129.13 370.69 129.11 371.24 129.3 371.45C129.49 371.66 129.91 371.66 130.1 371.45C130.29 371.24 130.28 370.69 130.45 370.2C130.68 369.54 131.24 368.63 131.5 367.5C131.97 365.4 132.8 361.59 133.3 357.6C134.05 351.57 135.28 339.23 136 331.3C136.72 323.37 137.15 316.15 137.6 310C138.05 303.85 138.2 300.28 138.7 294.4C139.2 288.52 140.02 279.52 140.6 274.7C141.05 270.99 141.63 267.38 142.2 265.5C142.52 264.46 142.91 263.51 144 263.45C150.08 263.11 172.92 263.45 178.7 263.45" stroke="#E94242" stroke-width="1.25" fill="none" stroke-linejoin="round"/>
<path d="M41.3 262.8C42.43 263.68 46.15 266.23 48.1 268.1C50.05 269.97 51.47 272.23 53 274C54.53 275.77 55.97 277.53 57.3 278.7C58.61 279.85 59.78 280.47 61 281C62.22 281.53 63.43 281.98 64.6 281.9C65.77 281.82 66.8 281.27 68 280.5C69.2 279.73 70.63 278.33 71.8 277.3C72.97 276.27 74.02 275.07 75 274.3C75.98 273.53 76.95 272.67 77.7 272.7C78.45 272.73 79.01 273.61 79.5 274.5C80.05 275.5 80.47 277 81 278.7C81.9 281.58 83.58 287.65 84.9 291.8C86.22 295.95 87.85 300.73 88.9 303.6C89.71 305.8 90.55 307.1 91.2 309C91.85 310.9 92.43 312.54 92.8 315C93.37 318.72 94.06 324.76 94.6 331.3C95.43 341.3 96.93 364.17 97.8 375C98.48 383.53 99.22 391.05 99.8 396.3C100.26 400.4 101.04 404.52 101.3 406.5C101.39 407.17 101.28 407.71 101.35 408.2C101.42 408.69 101.51 409.24 101.7 409.45C101.89 409.66 102.31 409.66 102.5 409.45C102.69 409.24 102.78 408.69 102.85 408.2C102.92 407.71 102.82 407.18 102.9 406.5C103.14 404.52 103.92 400.4 104.3 396.3C104.78 391.05 105.3 383.53 105.8 375C106.37 365.27 107.1 348.73 107.7 337.9C108.3 327.07 108.92 317.25 109.4 310C109.82 303.76 110.18 300.28 110.6 294.4C111.02 288.52 111.5 279.43 111.9 274.7C112.2 271.2 112.55 267.88 113 266C113.28 264.83 113.4 263.59 114.6 263.45C118.12 263.03 130.85 263.45 134.1 263.45" stroke="#1F6FDC" stroke-width="2.1" stroke-opacity="0.22" fill="none" stroke-linejoin="round"/>
<path d="M41.3 262.8C42.43 263.68 46.15 266.23 48.1 268.1C50.05 269.97 51.47 272.23 53 274C54.53 275.77 55.97 277.53 57.3 278.7C58.61 279.85 59.78 280.47 61 281C62.22 281.53 63.43 281.98 64.6 281.9C65.77 281.82 66.8 281.27 68 280.5C69.2 279.73 70.63 278.33 71.8 277.3C72.97 276.27 74.02 275.07 75 274.3C75.98 273.53 76.95 272.67 77.7 272.7C78.45 272.73 79.01 273.61 79.5 274.5C80.05 275.5 80.47 277 81 278.7C81.9 281.58 83.58 287.65 84.9 291.8C86.22 295.95 87.85 300.73 88.9 303.6C89.71 305.8 90.55 307.1 91.2 309C91.85 310.9 92.43 312.54 92.8 315C93.37 318.72 94.06 324.76 94.6 331.3C95.43 341.3 96.93 364.17 97.8 375C98.48 383.53 99.22 391.05 99.8 396.3C100.26 400.4 101.04 404.52 101.3 406.5C101.39 407.17 101.28 407.71 101.35 408.2C101.42 408.69 101.51 409.24 101.7 409.45C101.89 409.66 102.31 409.66 102.5 409.45C102.69 409.24 102.78 408.69 102.85 408.2C102.92 407.71 102.82 407.18 102.9 406.5C103.14 404.52 103.92 400.4 104.3 396.3C104.78 391.05 105.3 383.53 105.8 375C106.37 365.27 107.1 348.73 107.7 337.9C108.3 327.07 108.92 317.25 109.4 310C109.82 303.76 110.18 300.28 110.6 294.4C111.02 288.52 111.5 279.43 111.9 274.7C112.2 271.2 112.55 267.88 113 266C113.28 264.83 113.4 263.59 114.6 263.45C118.12 263.03 130.85 263.45 134.1 263.45" stroke="#1F6FDC" stroke-width="1.25" fill="none" stroke-linejoin="round"/>
<path d="M41.3 262.8C41.83 263.67 43.37 266.02 44.5 268C45.63 269.98 46.68 272.03 48.1 274.7C49.52 277.37 51.6 281.37 53 284C54.39 286.61 55.45 289.08 56.5 290.5C57.32 291.61 58.38 292.67 59.3 292.5C60.22 292.33 61.15 290.87 62 289.5C62.88 288.07 63.8 285.82 64.6 283.9C65.4 281.98 66.15 279.35 66.8 278C67.28 277 67.93 275.63 68.5 275.8C69.07 275.97 69.82 277.6 70.2 279C70.75 281.02 71.16 284.34 71.8 287.9C72.5 291.78 73.77 298.62 74.4 302.3C74.93 305.37 75.21 306.91 75.6 310C76.22 314.83 77.26 322.76 78.1 331.3C79.17 342.13 80.95 361.98 82 375C83.05 388.02 83.75 400.73 84.4 409.4C84.93 416.45 85.64 423.43 85.9 427C86.01 428.52 85.88 429.96 85.95 430.8C85.99 431.32 86.11 431.84 86.3 432.05C86.49 432.26 86.91 432.26 87.1 432.05C87.29 431.84 87.41 431.32 87.45 430.8C87.52 429.96 87.37 428.51 87.5 427C87.81 423.43 88.8 416.46 89.3 409.4C89.92 400.73 90.65 388.02 91.2 375C91.75 361.98 92.18 342.13 92.6 331.3C92.93 322.77 93.43 316.15 93.7 310C93.97 303.85 93.92 300.28 94.2 294.4C94.48 288.52 95 279.43 95.4 274.7C95.7 271.2 96.13 267.88 96.6 266C96.89 264.83 97.02 263.67 98.2 263.45C100.53 263.03 108.53 263.45 110.6 263.45" stroke="#37AB69" stroke-width="2.1" stroke-opacity="0.22" fill="none" stroke-linejoin="round"/>
<path d="M41.3 262.8C41.83 263.67 43.37 266.02 44.5 268C45.63 269.98 46.68 272.03 48.1 274.7C49.52 277.37 51.6 281.37 53 284C54.39 286.61 55.45 289.08 56.5 290.5C57.32 291.61 58.38 292.67 59.3 292.5C60.22 292.33 61.15 290.87 62 289.5C62.88 288.07 63.8 285.82 64.6 283.9C65.4 281.98 66.15 279.35 66.8 278C67.28 277 67.93 275.63 68.5 275.8C69.07 275.97 69.82 277.6 70.2 279C70.75 281.02 71.16 284.34 71.8 287.9C72.5 291.78 73.77 298.62 74.4 302.3C74.93 305.37 75.21 306.91 75.6 310C76.22 314.83 77.26 322.76 78.1 331.3C79.17 342.13 80.95 361.98 82 375C83.05 388.02 83.75 400.73 84.4 409.4C84.93 416.45 85.64 423.43 85.9 427C86.01 428.52 85.88 429.96 85.95 430.8C85.99 431.32 86.11 431.84 86.3 432.05C86.49 432.26 86.91 432.26 87.1 432.05C87.29 431.84 87.41 431.32 87.45 430.8C87.52 429.96 87.37 428.51 87.5 427C87.81 423.43 88.8 416.46 89.3 409.4C89.92 400.73 90.65 388.02 91.2 375C91.75 361.98 92.18 342.13 92.6 331.3C92.93 322.77 93.43 316.15 93.7 310C93.97 303.85 93.92 300.28 94.2 294.4C94.48 288.52 95 279.43 95.4 274.7C95.7 271.2 96.13 267.88 96.6 266C96.89 264.83 97.02 263.67 98.2 263.45C100.53 263.03 108.53 263.45 110.6 263.45" stroke="#37AB69" stroke-width="1.25" fill="none" stroke-linejoin="round"/>
<text transform="translate(36.9 264.55) matrix(1 0.003 0 1 0 0)" font-size="8" font-weight="bold" fill="#000" text-anchor="end" textLength="11.2" lengthAdjust="spacingAndGlyphs" stroke="#000" stroke-width="0.15">0.0</text>
<text transform="translate(36.9 309.36) matrix(1 0.003 0 1 0 0)" font-size="8" font-weight="bold" fill="#000" text-anchor="end" textLength="13.3" lengthAdjust="spacingAndGlyphs" stroke="#000" stroke-width="0.15">-0.1</text>
<text transform="translate(36.9 354.17) matrix(1 0.003 0 1 0 0)" font-size="8" font-weight="bold" fill="#000" text-anchor="end" textLength="13.3" lengthAdjust="spacingAndGlyphs" stroke="#000" stroke-width="0.15">-0.2</text>
<text transform="translate(36.9 398.98) matrix(1 0.003 0 1 0 0)" font-size="8" font-weight="bold" fill="#000" text-anchor="end" textLength="13.3" lengthAdjust="spacingAndGlyphs" stroke="#000" stroke-width="0.15">-0.3</text>
<text transform="translate(36.9 443.79) matrix(1 0.003 0 1 0 0)" font-size="8" font-weight="bold" fill="#000" text-anchor="end" textLength="13.3" lengthAdjust="spacingAndGlyphs" stroke="#000" stroke-width="0.15">-0.4</text>
<text transform="translate(41 474.7) matrix(1 0.003 0 1 0 0)" font-size="8" font-weight="bold" fill="#000" text-anchor="middle" textLength="4.3" lengthAdjust="spacingAndGlyphs" stroke="#000" stroke-width="0.15">0</text>
<text transform="translate(103.53 474.7) matrix(1 0.003 0 1 0 0)" font-size="8" font-weight="bold" fill="#000" text-anchor="middle" textLength="17.1" lengthAdjust="spacingAndGlyphs" stroke="#000" stroke-width="0.15">1000</text>
<text transform="translate(166.05 474.7) matrix(1 0.003 0 1 0 0)" font-size="8" font-weight="bold" fill="#000" text-anchor="middle" textLength="17.1" lengthAdjust="spacingAndGlyphs" stroke="#000" stroke-width="0.15">2000</text>
<text transform="translate(228.58 474.7) matrix(1 0.003 0 1 0 0)" font-size="8" font-weight="bold" fill="#000" text-anchor="middle" textLength="17.1" lengthAdjust="spacingAndGlyphs" stroke="#000" stroke-width="0.15">3000</text>
<text transform="translate(291.1 474.7) matrix(1 0.003 0 1 0 0)" font-size="8" font-weight="bold" fill="#000" text-anchor="middle" textLength="17.1" lengthAdjust="spacingAndGlyphs" stroke="#000" stroke-width="0.15">4000</text>
<text transform="translate(156.15 490.6) matrix(1 0.003 0 1 0 0)" font-size="11" font-weight="bold" fill="#000" textLength="3.9" lengthAdjust="spacingAndGlyphs" font-style="italic" stroke="#000" stroke-width="0.3">t</text>
<text transform="translate(163.05 492.4) matrix(1 0.003 0 1 0 0)" font-size="14.5" font-weight="normal" fill="#000" textLength="4.9" lengthAdjust="spacingAndGlyphs" stroke="#000" stroke-width="0.3">/</text>
<text transform="translate(171.35 490.6) matrix(1 0.003 0 1 0 0)" font-size="10.6" font-weight="bold" fill="#000" textLength="4.8" lengthAdjust="spacingAndGlyphs" stroke="#000" stroke-width="0.3">s</text>
<g transform="translate(12.4 403.95) rotate(-90)">
<text transform="translate(0 0) matrix(1 0.003 0 1 0 0)" font-size="10.8" font-weight="bold" fill="#000" textLength="84.3" lengthAdjust="spacingAndGlyphs" stroke="#000" stroke-width="0.15">Deriv mass / %·s</text>
<text transform="translate(84.7 -4.8) matrix(1 0.003 0 1 0 0)" font-size="8.2" font-weight="bold" fill="#000" textLength="6" lengthAdjust="spacingAndGlyphs">-1</text>
</g>
<path d="M216.2 400.1 H236.3" stroke="#4A4A4A" stroke-width="2.3" stroke-opacity="0.25"/>
<path d="M216.2 400.1 H236.3" stroke="#4A4A4A" stroke-width="1.4"/>
<text transform="translate(238.5 402.7) matrix(1 0.003 0 1 0 0)" font-size="10.2" font-weight="bold" fill="#000" textLength="30.3" lengthAdjust="spacingAndGlyphs" stroke="#000" stroke-width="0.15">5K·min</text>
<text transform="translate(269.3 400.2) matrix(1 0.003 0 1 0 0)" font-size="9.9" font-weight="bold" fill="#000" textLength="8" lengthAdjust="spacingAndGlyphs">-1</text>
<path d="M216.2 418.13 H236.3" stroke="#E94242" stroke-width="2.3" stroke-opacity="0.25"/>
<path d="M216.2 418.13 H236.3" stroke="#E94242" stroke-width="1.4"/>
<text transform="translate(239 420.73) matrix(1 0.003 0 1 0 0)" font-size="10.2" font-weight="bold" fill="#000" textLength="35.9" lengthAdjust="spacingAndGlyphs" stroke="#000" stroke-width="0.15">10K·min</text>
<text transform="translate(275.6 418.23) matrix(1 0.003 0 1 0 0)" font-size="9.9" font-weight="bold" fill="#000" textLength="8" lengthAdjust="spacingAndGlyphs">-1</text>
<path d="M216.2 436.16 H236.3" stroke="#1F6FDC" stroke-width="2.3" stroke-opacity="0.25"/>
<path d="M216.2 436.16 H236.3" stroke="#1F6FDC" stroke-width="1.4"/>
<text transform="translate(239 438.76) matrix(1 0.003 0 1 0 0)" font-size="10.2" font-weight="bold" fill="#000" textLength="35.9" lengthAdjust="spacingAndGlyphs" stroke="#000" stroke-width="0.15">15K·min</text>
<text transform="translate(275.6 436.26) matrix(1 0.003 0 1 0 0)" font-size="9.9" font-weight="bold" fill="#000" textLength="8" lengthAdjust="spacingAndGlyphs">-1</text>
<path d="M216.2 454.19 H236.3" stroke="#37AB69" stroke-width="2.3" stroke-opacity="0.25"/>
<path d="M216.2 454.19 H236.3" stroke="#37AB69" stroke-width="1.4"/>
<text transform="translate(239 456.79) matrix(1 0.003 0 1 0 0)" font-size="10.2" font-weight="bold" fill="#000" textLength="35.9" lengthAdjust="spacingAndGlyphs" stroke="#000" stroke-width="0.15">20K·min</text>
<text transform="translate(275.6 454.29) matrix(1 0.003 0 1 0 0)" font-size="9.9" font-weight="bold" fill="#000" textLength="8" lengthAdjust="spacingAndGlyphs">-1</text>
<text transform="translate(267.5 290.9) matrix(1 0.003 0 1 0 0)" font-size="17" font-weight="bold" fill="#000" textLength="7.6" lengthAdjust="spacingAndGlyphs" class="sf" stroke="#000" stroke-width="0.2">3</text>
<text transform="translate(275.8 284) matrix(1 0.003 0 1 0 0)" font-size="11.2" font-weight="bold" fill="#000" textLength="5.7" lengthAdjust="spacingAndGlyphs" class="sf" font-style="italic">#</text>
<text transform="translate(207.1 338.1) matrix(1 0.003 0 1 0 0)" font-size="7.6" font-weight="normal" fill="#4A4A4A" textLength="44.7" lengthAdjust="spacingAndGlyphs" stroke="#4A4A4A" stroke-width="0.35">Peak <tspan font-style="italic">t</tspan>:2671s</text>
<path d="M230.7 328.9 L219.31 318.93" stroke="#4A4A4A" stroke-width="0.45" fill="none"/>
<path d="M215.4 315.5L218.26 320.13L220.37 317.72Z" fill="#4A4A4A"/>
<text transform="translate(135.7 383.2) matrix(1 0.003 0 1 0 0)" font-size="7.6" font-weight="bold" fill="#E94242" textLength="45" lengthAdjust="spacingAndGlyphs" stroke="#E94242" stroke-width="0.15">Peak <tspan font-style="italic">t</tspan>:1420s</text>
<path d="M152.7 373.4 L140.19 361.66" stroke="#E94242" stroke-width="0.45" fill="none"/>
<path d="M136.4 358.1L139.1 362.83L141.29 360.49Z" fill="#E94242"/>
<text transform="translate(108.5 414.6) matrix(1 0.003 0 1 0 0)" font-size="7.6" font-weight="bold" fill="#1F6FDC" textLength="40.7" lengthAdjust="spacingAndGlyphs" stroke="#1F6FDC" stroke-width="0.15">Peak <tspan font-style="italic">t</tspan>:974s</text>
<path d="M125 404.8 L111.69 393.64" stroke="#1F6FDC" stroke-width="0.45" fill="none"/>
<path d="M107.7 390.3L110.66 394.87L112.71 392.41Z" fill="#1F6FDC"/>
<text transform="translate(90.5 448.9) matrix(1 0.003 0 1 0 0)" font-size="7.6" font-weight="bold" fill="#37AB69" textLength="40.6" lengthAdjust="spacingAndGlyphs" stroke="#37AB69" stroke-width="0.15">Peak <tspan font-style="italic">t</tspan>:730s</text>
<path d="M108 438.6 L95.49 428.14" stroke="#37AB69" stroke-width="0.45" fill="none"/>
<path d="M91.5 424.8L94.46 429.36L96.52 426.91Z" fill="#37AB69"/>
</g>
<g>
<rect x="421.4" y="262.35" width="249.9" height="201.65" fill="url(#bg)"/>
<path d="M452.64 464 v-2.2M483.88 464 v-4M515.11 464 v-2.2M546.35 464 v-4M577.59 464 v-2.2M608.82 464 v-4M640.06 464 v-2.2M421.4 287.56 h2.2M421.4 312.76 h4M421.4 337.97 h2.2M421.4 363.18 h4M421.4 388.38 h2.2M421.4 413.59 h4M421.4 438.79 h2.2" stroke="#000" stroke-width="1.5" fill="none"/>
<rect x="421.4" y="262.35" width="249.9" height="201.65" fill="none" stroke="#0d0d0d" stroke-width="1.55"/>
<path d="M421.5 262.8C423.7 263.25 430.3 264.62 434.7 265.5C439.1 266.38 443.52 267.12 447.9 268.1C452.28 269.08 457.72 270.67 461 271.4C463.61 271.98 465.42 272.6 467.6 272.5C469.78 272.4 471.51 271.53 474.1 270.8C476.72 270.07 480.02 268.77 483.3 268.1C486.58 267.43 489.67 267.28 493.8 266.8C497.93 266.32 503.08 265.47 508.1 265.2C513.12 264.93 520.38 264.93 523.9 265.2C526.11 265.37 527.45 265.65 529.2 266.8C530.95 267.95 532.65 270.12 534.4 272.1C536.15 274.08 537.95 277.07 539.7 278.7C541.45 280.33 542.93 281.58 544.9 281.9C546.87 282.22 549.3 280.37 551.5 280.6C553.7 280.83 555.92 281.87 558.1 283.3C560.28 284.73 562.47 286.41 564.6 289.2C566.83 292.12 569.1 296.33 571.5 300.8C573.9 305.27 577.17 312.8 579 316C580.06 317.84 581.38 319.13 582.5 320C583.58 320.84 584.7 321.28 585.7 321.2C586.7 321.12 587.59 320.44 588.5 319.5C589.43 318.53 590.6 317.26 591.3 315.4C592.48 312.23 594.15 306.18 595.6 300.5C597.05 294.82 598.53 286.83 600 281.3C601.47 275.77 603.32 270.18 604.4 267.3C604.95 265.84 605.87 264.74 606.5 264C607.03 263.38 607.92 263.04 608.2 262.85" stroke="#4A4A4A" stroke-width="2.1" stroke-opacity="0.22" fill="none" stroke-linejoin="round"/>
<path d="M421.5 262.8C423.7 263.25 430.3 264.62 434.7 265.5C439.1 266.38 443.52 267.12 447.9 268.1C452.28 269.08 457.72 270.67 461 271.4C463.61 271.98 465.42 272.6 467.6 272.5C469.78 272.4 471.51 271.53 474.1 270.8C476.72 270.07 480.02 268.77 483.3 268.1C486.58 267.43 489.67 267.28 493.8 266.8C497.93 266.32 503.08 265.47 508.1 265.2C513.12 264.93 520.38 264.93 523.9 265.2C526.11 265.37 527.45 265.65 529.2 266.8C530.95 267.95 532.65 270.12 534.4 272.1C536.15 274.08 537.95 277.07 539.7 278.7C541.45 280.33 542.93 281.58 544.9 281.9C546.87 282.22 549.3 280.37 551.5 280.6C553.7 280.83 555.92 281.87 558.1 283.3C560.28 284.73 562.47 286.41 564.6 289.2C566.83 292.12 569.1 296.33 571.5 300.8C573.9 305.27 577.17 312.8 579 316C580.06 317.84 581.38 319.13 582.5 320C583.58 320.84 584.7 321.28 585.7 321.2C586.7 321.12 587.59 320.44 588.5 319.5C589.43 318.53 590.6 317.26 591.3 315.4C592.48 312.23 594.15 306.18 595.6 300.5C597.05 294.82 598.53 286.83 600 281.3C601.47 275.77 603.32 270.18 604.4 267.3C604.95 265.84 605.87 264.74 606.5 264C607.03 263.38 607.92 263.04 608.2 262.85" stroke="#4A4A4A" stroke-width="1.35" fill="none" stroke-linejoin="round"/>
<path d="M421.5 262.8C422.6 263.37 425.63 264.55 428.1 266.2C430.73 267.97 434.45 271.1 437.3 273.4C440.15 275.7 442.9 278.52 445.2 280C447.33 281.37 449.13 282.52 451.1 282.3C453.07 282.08 454.92 280.52 457 278.7C459.08 276.88 461.4 273.2 463.6 271.4C465.8 269.6 468.33 268.62 470.2 267.9C471.94 267.23 473.48 266.4 474.8 267.1C476.12 267.8 477.25 269.86 478.1 272.1C479.08 274.68 479.72 278.88 480.7 282.6C481.68 286.32 483.02 291.77 484 294.4C484.67 296.19 485.5 298.07 486.6 298.4C487.7 298.73 489.4 296.18 490.6 296.4C491.8 296.62 492.93 298.08 493.8 299.7C494.7 301.38 495.37 304.03 496 306.5C496.63 308.97 497.08 311.47 497.6 314.5C498.12 317.53 498.49 320.62 499.1 324.7C500.02 330.78 501.87 343.45 503.1 351C504.33 358.55 505.71 365.88 506.5 370C506.94 372.3 507.57 374.54 507.85 375.7C507.97 376.2 508.01 376.74 508.2 376.95C508.39 377.16 508.81 377.16 509 376.95C509.19 376.74 509.22 376.2 509.35 375.7C509.57 374.88 510.01 373.5 510.3 372C510.68 370.07 511.24 367.28 511.6 364.1C512.25 358.42 513.5 346.58 514.2 337.9C514.9 329.22 515.38 319.25 515.8 312C516.2 304.96 516.22 300.62 516.7 294.4C517.18 288.18 518.08 279.52 518.7 274.7C519.18 270.99 519.8 267.35 520.4 265.5C520.73 264.48 521.23 263.65 522.3 263.6C528.75 263.28 552.97 263.6 559.1 263.6" stroke="#E94242" stroke-width="2.1" stroke-opacity="0.22" fill="none" stroke-linejoin="round"/>
<path d="M421.5 262.8C422.6 263.37 425.63 264.55 428.1 266.2C430.73 267.97 434.45 271.1 437.3 273.4C440.15 275.7 442.9 278.52 445.2 280C447.33 281.37 449.13 282.52 451.1 282.3C453.07 282.08 454.92 280.52 457 278.7C459.08 276.88 461.4 273.2 463.6 271.4C465.8 269.6 468.33 268.62 470.2 267.9C471.94 267.23 473.48 266.4 474.8 267.1C476.12 267.8 477.25 269.86 478.1 272.1C479.08 274.68 479.72 278.88 480.7 282.6C481.68 286.32 483.02 291.77 484 294.4C484.67 296.19 485.5 298.07 486.6 298.4C487.7 298.73 489.4 296.18 490.6 296.4C491.8 296.62 492.93 298.08 493.8 299.7C494.7 301.38 495.37 304.03 496 306.5C496.63 308.97 497.08 311.47 497.6 314.5C498.12 317.53 498.49 320.62 499.1 324.7C500.02 330.78 501.87 343.45 503.1 351C504.33 358.55 505.71 365.88 506.5 370C506.94 372.3 507.57 374.54 507.85 375.7C507.97 376.2 508.01 376.74 508.2 376.95C508.39 377.16 508.81 377.16 509 376.95C509.19 376.74 509.22 376.2 509.35 375.7C509.57 374.88 510.01 373.5 510.3 372C510.68 370.07 511.24 367.28 511.6 364.1C512.25 358.42 513.5 346.58 514.2 337.9C514.9 329.22 515.38 319.25 515.8 312C516.2 304.96 516.22 300.62 516.7 294.4C517.18 288.18 518.08 279.52 518.7 274.7C519.18 270.99 519.8 267.35 520.4 265.5C520.73 264.48 521.23 263.65 522.3 263.6C528.75 263.28 552.97 263.6 559.1 263.6" stroke="#E94242" stroke-width="1.25" fill="none" stroke-linejoin="round"/>
<path d="M421.5 262.8C422.6 263.92 425.68 266.85 428.1 269.5C430.52 272.15 433.93 276.65 436 278.7C437.55 280.24 439.07 281.03 440.5 281.8C441.93 282.57 443.27 283.3 444.6 283.3C445.93 283.3 447.3 282.47 448.5 281.8C449.7 281.13 450.72 280.27 451.8 279.3C452.88 278.33 454.02 276.87 455 276C455.98 275.13 457 274.13 457.7 274.1C458.4 274.07 458.83 274.97 459.2 275.8C459.63 276.78 459.9 278.31 460.3 280C461.03 283.1 462.77 290.23 463.6 294.4C464.43 298.57 464.63 301.4 465.3 305C465.97 308.6 466.67 312.5 467.6 316C468.53 319.5 470.04 321.88 470.9 326C471.88 330.73 472.73 337.01 473.5 344.4C474.35 352.57 475.23 366.35 476 375C476.76 383.53 477.48 390.13 478.1 396.3C478.72 402.47 479.43 408.92 479.7 412C479.8 413.12 479.68 414.12 479.75 414.8C479.8 415.32 479.91 415.84 480.1 416.05C480.29 416.26 480.71 416.26 480.9 416.05C481.09 415.84 481.2 415.32 481.25 414.8C481.32 414.12 481.19 413.11 481.3 412C481.61 408.92 482.53 402.47 483.1 396.3C483.67 390.13 484.19 383.53 484.7 375C485.28 365.27 486.1 348.73 486.6 337.9C487.1 327.07 487.37 317.25 487.7 310C487.99 303.76 488.23 300.28 488.6 294.4C488.97 288.52 489.47 279.43 489.9 274.7C490.22 271.2 490.72 267.85 491.2 266C491.49 264.88 491.65 263.72 492.8 263.6C496.67 263.2 510.8 263.6 514.4 263.6" stroke="#1F6FDC" stroke-width="2.1" stroke-opacity="0.22" fill="none" stroke-linejoin="round"/>
<path d="M421.5 262.8C422.6 263.92 425.68 266.85 428.1 269.5C430.52 272.15 433.93 276.65 436 278.7C437.55 280.24 439.07 281.03 440.5 281.8C441.93 282.57 443.27 283.3 444.6 283.3C445.93 283.3 447.3 282.47 448.5 281.8C449.7 281.13 450.72 280.27 451.8 279.3C452.88 278.33 454.02 276.87 455 276C455.98 275.13 457 274.13 457.7 274.1C458.4 274.07 458.83 274.97 459.2 275.8C459.63 276.78 459.9 278.31 460.3 280C461.03 283.1 462.77 290.23 463.6 294.4C464.43 298.57 464.63 301.4 465.3 305C465.97 308.6 466.67 312.5 467.6 316C468.53 319.5 470.04 321.88 470.9 326C471.88 330.73 472.73 337.01 473.5 344.4C474.35 352.57 475.23 366.35 476 375C476.76 383.53 477.48 390.13 478.1 396.3C478.72 402.47 479.43 408.92 479.7 412C479.8 413.12 479.68 414.12 479.75 414.8C479.8 415.32 479.91 415.84 480.1 416.05C480.29 416.26 480.71 416.26 480.9 416.05C481.09 415.84 481.2 415.32 481.25 414.8C481.32 414.12 481.19 413.11 481.3 412C481.61 408.92 482.53 402.47 483.1 396.3C483.67 390.13 484.19 383.53 484.7 375C485.28 365.27 486.1 348.73 486.6 337.9C487.1 327.07 487.37 317.25 487.7 310C487.99 303.76 488.23 300.28 488.6 294.4C488.97 288.52 489.47 279.43 489.9 274.7C490.22 271.2 490.72 267.85 491.2 266C491.49 264.88 491.65 263.72 492.8 263.6C496.67 263.2 510.8 263.6 514.4 263.6" stroke="#1F6FDC" stroke-width="1.25" fill="none" stroke-linejoin="round"/>
<path d="M421.5 262.8C422.6 263.92 425.91 266.44 428.1 269.5C430.3 272.58 432.97 278.22 434.7 281.3C436.21 283.99 437.3 286.25 438.5 288C439.65 289.68 440.73 291.47 441.9 291.8C443.07 292.13 444.33 290.92 445.5 290C446.67 289.08 448.12 286.38 448.9 286.3C449.68 286.22 449.92 288.15 450.2 289.5C450.57 291.28 450.63 294.25 451.1 297C451.57 299.75 452.53 302.35 453 306C453.88 312.82 455.12 326.4 456.4 337.9C457.68 349.4 459.48 363.08 460.7 375C461.92 386.92 462.95 399.73 463.7 409.4C464.43 418.83 464.94 428.33 465.2 433C465.3 434.76 465.18 436.46 465.25 437.4C465.29 437.92 465.41 438.44 465.6 438.65C465.79 438.86 466.21 438.86 466.4 438.65C466.59 438.44 466.71 437.92 466.75 437.4C466.82 436.46 466.67 434.75 466.8 433C467.16 428.33 468.25 418.85 468.9 409.4C469.57 399.73 470.25 386.92 470.8 375C471.35 363.08 471.83 348.73 472.2 337.9C472.57 327.07 472.78 317.25 473 310C473.19 303.76 473.2 300.28 473.5 294.4C473.8 288.52 474.38 279.4 474.8 274.7C475.1 271.28 475.5 268.05 476 266.2C476.33 264.98 476.55 263.81 477.8 263.6C480.33 263.17 488.97 263.6 491.2 263.6" stroke="#37AB69" stroke-width="2.1" stroke-opacity="0.22" fill="none" stroke-linejoin="round"/>
<path d="M421.5 262.8C422.6 263.92 425.91 266.44 428.1 269.5C430.3 272.58 432.97 278.22 434.7 281.3C436.21 283.99 437.3 286.25 438.5 288C439.65 289.68 440.73 291.47 441.9 291.8C443.07 292.13 444.33 290.92 445.5 290C446.67 289.08 448.12 286.38 448.9 286.3C449.68 286.22 449.92 288.15 450.2 289.5C450.57 291.28 450.63 294.25 451.1 297C451.57 299.75 452.53 302.35 453 306C453.88 312.82 455.12 326.4 456.4 337.9C457.68 349.4 459.48 363.08 460.7 375C461.92 386.92 462.95 399.73 463.7 409.4C464.43 418.83 464.94 428.33 465.2 433C465.3 434.76 465.18 436.46 465.25 437.4C465.29 437.92 465.41 438.44 465.6 438.65C465.79 438.86 466.21 438.86 466.4 438.65C466.59 438.44 466.71 437.92 466.75 437.4C466.82 436.46 466.67 434.75 466.8 433C467.16 428.33 468.25 418.85 468.9 409.4C469.57 399.73 470.25 386.92 470.8 375C471.35 363.08 471.83 348.73 472.2 337.9C472.57 327.07 472.78 317.25 473 310C473.19 303.76 473.2 300.28 473.5 294.4C473.8 288.52 474.38 279.4 474.8 274.7C475.1 271.28 475.5 268.05 476 266.2C476.33 264.98 476.55 263.81 477.8 263.6C480.33 263.17 488.97 263.6 491.2 263.6" stroke="#37AB69" stroke-width="1.25" fill="none" stroke-linejoin="round"/>
<text transform="translate(417.3 264.55) matrix(1 0.003 0 1 0 0)" font-size="8" font-weight="bold" fill="#000" text-anchor="end" textLength="11.2" lengthAdjust="spacingAndGlyphs" stroke="#000" stroke-width="0.15">0.0</text>
<text transform="translate(417.3 314.96) matrix(1 0.003 0 1 0 0)" font-size="8" font-weight="bold" fill="#000" text-anchor="end" textLength="13.3" lengthAdjust="spacingAndGlyphs" stroke="#000" stroke-width="0.15">-0.1</text>
<text transform="translate(417.3 365.38) matrix(1 0.003 0 1 0 0)" font-size="8" font-weight="bold" fill="#000" text-anchor="end" textLength="13.3" lengthAdjust="spacingAndGlyphs" stroke="#000" stroke-width="0.15">-0.2</text>
<text transform="translate(417.3 415.79) matrix(1 0.003 0 1 0 0)" font-size="8" font-weight="bold" fill="#000" text-anchor="end" textLength="13.3" lengthAdjust="spacingAndGlyphs" stroke="#000" stroke-width="0.15">-0.3</text>
<text transform="translate(417.3 466.2) matrix(1 0.003 0 1 0 0)" font-size="8" font-weight="bold" fill="#000" text-anchor="end" textLength="13.3" lengthAdjust="spacingAndGlyphs" stroke="#000" stroke-width="0.15">-0.4</text>
<text transform="translate(421.4 474.7) matrix(1 0.003 0 1 0 0)" font-size="8" font-weight="bold" fill="#000" text-anchor="middle" textLength="4.3" lengthAdjust="spacingAndGlyphs" stroke="#000" stroke-width="0.15">0</text>
<text transform="translate(483.88 474.7) matrix(1 0.003 0 1 0 0)" font-size="8" font-weight="bold" fill="#000" text-anchor="middle" textLength="17.1" lengthAdjust="spacingAndGlyphs" stroke="#000" stroke-width="0.15">1000</text>
<text transform="translate(546.35 474.7) matrix(1 0.003 0 1 0 0)" font-size="8" font-weight="bold" fill="#000" text-anchor="middle" textLength="17.1" lengthAdjust="spacingAndGlyphs" stroke="#000" stroke-width="0.15">2000</text>
<text transform="translate(608.82 474.7) matrix(1 0.003 0 1 0 0)" font-size="8" font-weight="bold" fill="#000" text-anchor="middle" textLength="17.1" lengthAdjust="spacingAndGlyphs" stroke="#000" stroke-width="0.15">3000</text>
<text transform="translate(671.3 474.7) matrix(1 0.003 0 1 0 0)" font-size="8" font-weight="bold" fill="#000" text-anchor="middle" textLength="17.1" lengthAdjust="spacingAndGlyphs" stroke="#000" stroke-width="0.15">4000</text>
<text transform="translate(536.45 490.6) matrix(1 0.003 0 1 0 0)" font-size="11" font-weight="bold" fill="#000" textLength="3.9" lengthAdjust="spacingAndGlyphs" font-style="italic" stroke="#000" stroke-width="0.3">t</text>
<text transform="translate(543.35 492.4) matrix(1 0.003 0 1 0 0)" font-size="14.5" font-weight="normal" fill="#000" textLength="4.9" lengthAdjust="spacingAndGlyphs" stroke="#000" stroke-width="0.3">/</text>
<text transform="translate(551.65 490.6) matrix(1 0.003 0 1 0 0)" font-size="10.6" font-weight="bold" fill="#000" textLength="4.8" lengthAdjust="spacingAndGlyphs" stroke="#000" stroke-width="0.3">s</text>
<g transform="translate(392.2 403.95) rotate(-90)">
<text transform="translate(0 0) matrix(1 0.003 0 1 0 0)" font-size="10.8" font-weight="bold" fill="#000" textLength="84.3" lengthAdjust="spacingAndGlyphs" stroke="#000" stroke-width="0.15">Deriv mass / %·s</text>
<text transform="translate(84.7 -4.8) matrix(1 0.003 0 1 0 0)" font-size="8.2" font-weight="bold" fill="#000" textLength="6" lengthAdjust="spacingAndGlyphs">-1</text>
</g>
<path d="M594.2 401.4 H614.6" stroke="#4A4A4A" stroke-width="2.3" stroke-opacity="0.25"/>
<path d="M594.2 401.4 H614.6" stroke="#4A4A4A" stroke-width="1.4"/>
<text transform="translate(616.8 404) matrix(1 0.003 0 1 0 0)" font-size="10.2" font-weight="bold" fill="#000" textLength="30.3" lengthAdjust="spacingAndGlyphs" stroke="#000" stroke-width="0.15">5K·min</text>
<text transform="translate(647.6 401.5) matrix(1 0.003 0 1 0 0)" font-size="9.9" font-weight="bold" fill="#000" textLength="8" lengthAdjust="spacingAndGlyphs">-1</text>
<path d="M594.2 419.43 H614.6" stroke="#E94242" stroke-width="2.3" stroke-opacity="0.25"/>
<path d="M594.2 419.43 H614.6" stroke="#E94242" stroke-width="1.4"/>
<text transform="translate(617.3 422.03) matrix(1 0.003 0 1 0 0)" font-size="10.2" font-weight="bold" fill="#000" textLength="35.9" lengthAdjust="spacingAndGlyphs" stroke="#000" stroke-width="0.15">10K·min</text>
<text transform="translate(653.9 419.53) matrix(1 0.003 0 1 0 0)" font-size="9.9" font-weight="bold" fill="#000" textLength="8" lengthAdjust="spacingAndGlyphs">-1</text>
<path d="M594.2 437.46 H614.6" stroke="#1F6FDC" stroke-width="2.3" stroke-opacity="0.25"/>
<path d="M594.2 437.46 H614.6" stroke="#1F6FDC" stroke-width="1.4"/>
<text transform="translate(617.3 440.06) matrix(1 0.003 0 1 0 0)" font-size="10.2" font-weight="bold" fill="#000" textLength="35.9" lengthAdjust="spacingAndGlyphs" stroke="#000" stroke-width="0.15">15K·min</text>
<text transform="translate(653.9 437.56) matrix(1 0.003 0 1 0 0)" font-size="9.9" font-weight="bold" fill="#000" textLength="8" lengthAdjust="spacingAndGlyphs">-1</text>
<path d="M594.2 455.49 H614.6" stroke="#37AB69" stroke-width="2.3" stroke-opacity="0.25"/>
<path d="M594.2 455.49 H614.6" stroke="#37AB69" stroke-width="1.4"/>
<text transform="translate(617.3 458.09) matrix(1 0.003 0 1 0 0)" font-size="10.2" font-weight="bold" fill="#000" textLength="35.9" lengthAdjust="spacingAndGlyphs" stroke="#000" stroke-width="0.15">20K·min</text>
<text transform="translate(653.9 455.59) matrix(1 0.003 0 1 0 0)" font-size="9.9" font-weight="bold" fill="#000" textLength="8" lengthAdjust="spacingAndGlyphs">-1</text>
<text transform="translate(645 287.5) matrix(1 0.003 0 1 0 0)" font-size="14.5" font-weight="bold" fill="#000" textLength="8.3" lengthAdjust="spacingAndGlyphs" stroke="#000" stroke-width="0.3">4</text>
<text transform="translate(654 280.9) matrix(1 0.003 0 1 0 0)" font-size="10.5" font-weight="bold" fill="#000" textLength="5.6" lengthAdjust="spacingAndGlyphs" stroke="#000" stroke-width="0.35">#</text>
<text transform="translate(590.6 346.8) matrix(1 0.003 0 1 0 0)" font-size="7.6" font-weight="normal" fill="#4A4A4A" textLength="44.4" lengthAdjust="spacingAndGlyphs" stroke="#4A4A4A" stroke-width="0.35">Peak <tspan font-style="italic">t</tspan>:2620s</text>
<path d="M608.1 335 L596.29 323.27" stroke="#4A4A4A" stroke-width="0.45" fill="none"/>
<path d="M592.6 319.6L595.16 324.4L597.42 322.13Z" fill="#4A4A4A"/>
<text transform="translate(519.9 388.9) matrix(1 0.003 0 1 0 0)" font-size="7.6" font-weight="bold" fill="#E94242" textLength="44.8" lengthAdjust="spacingAndGlyphs" stroke="#E94242" stroke-width="0.15">Peak <tspan font-style="italic">t</tspan>:1401s</text>
<path d="M535 379.4 L522.3 366.15" stroke="#E94242" stroke-width="0.45" fill="none"/>
<path d="M518.7 362.4L521.14 367.26L523.45 365.05Z" fill="#E94242"/>
<text transform="translate(486.8 425.8) matrix(1 0.003 0 1 0 0)" font-size="7.6" font-weight="bold" fill="#1F6FDC" textLength="40.3" lengthAdjust="spacingAndGlyphs" stroke="#1F6FDC" stroke-width="0.15">Peak <tspan font-style="italic">t</tspan>:948s</text>
<path d="M503.9 415.7 L490.08 402.67" stroke="#1F6FDC" stroke-width="0.45" fill="none"/>
<path d="M486.3 399.1L488.99 403.83L491.18 401.5Z" fill="#1F6FDC"/>
<text transform="translate(471.9 451.1) matrix(1 0.003 0 1 0 0)" font-size="7.6" font-weight="bold" fill="#37AB69" textLength="40.6" lengthAdjust="spacingAndGlyphs" stroke="#37AB69" stroke-width="0.15">Peak <tspan font-style="italic">t</tspan>:717s</text>
<path d="M489.8 441.3 L476.78 428.97" stroke="#37AB69" stroke-width="0.45" fill="none"/>
<path d="M473 425.4L475.68 430.14L477.88 427.81Z" fill="#37AB69"/>
</g>
<g>
<rect x="231.4" y="515.35" width="249.7" height="201.25" fill="url(#bg)"/>
<path d="M262.61 716.6 v-2.2M293.82 716.6 v-4M325.04 716.6 v-2.2M356.25 716.6 v-4M387.46 716.6 v-2.2M418.68 716.6 v-4M449.89 716.6 v-2.2M231.4 540.51 h2.2M231.4 565.66 h4M231.4 590.82 h2.2M231.4 615.98 h4M231.4 641.13 h2.2M231.4 666.29 h4M231.4 691.44 h2.2" stroke="#000" stroke-width="1.5" fill="none"/>
<rect x="231.4" y="515.35" width="249.7" height="201.25" fill="none" stroke="#0d0d0d" stroke-width="1.55"/>
<path d="M231.5 515.8C233.7 516.25 240.3 517.38 244.7 518.5C249.1 519.62 253.52 521.18 257.9 522.5C262.28 523.82 267.28 525.53 271 526.4C274.62 527.24 277.35 527.82 280.2 527.7C283.05 527.58 285.47 526.68 288.1 525.7C290.73 524.72 294.02 522.62 296 521.8C297.53 521.17 298.67 521.15 300 520.8C301.33 520.45 302.68 519.97 304 519.7C305.32 519.43 306.34 519.38 307.9 519.2C310.52 518.9 315.53 518.12 319.7 517.9C323.87 517.68 329.83 517.58 332.9 517.9C335.1 518.13 336.38 518.41 338.1 519.8C339.85 521.22 341.65 524.1 343.4 526.4C345.15 528.7 346.85 531.52 348.6 533.6C350.35 535.68 352.37 537.75 353.9 538.9C355.25 539.91 356.11 540.5 357.8 540.5C359.55 540.5 362.43 538.73 364.4 538.9C366.37 539.07 367.85 540.08 369.6 541.5C371.35 542.92 373.13 544.88 374.9 547.4C376.67 549.92 378.38 553.22 380.2 556.6C382.02 559.98 384.33 565.08 385.8 567.7C386.9 569.66 388.03 571.3 389 572.3C389.82 573.15 390.77 573.75 391.6 573.7C392.43 573.65 393.27 572.88 394 572C394.73 571.12 395.4 569.93 396 568.4C397.22 565.32 399.55 559.18 401.3 553.5C403.05 547.82 404.9 539.7 406.5 534.3C408.08 528.96 409.68 523.95 410.9 521.1C411.66 519.31 412.87 518.08 413.8 517.2C414.68 516.37 416.05 516.08 416.5 515.85" stroke="#4A4A4A" stroke-width="2.1" stroke-opacity="0.22" fill="none" stroke-linejoin="round"/>
<path d="M231.5 515.8C233.7 516.25 240.3 517.38 244.7 518.5C249.1 519.62 253.52 521.18 257.9 522.5C262.28 523.82 267.28 525.53 271 526.4C274.62 527.24 277.35 527.82 280.2 527.7C283.05 527.58 285.47 526.68 288.1 525.7C290.73 524.72 294.02 522.62 296 521.8C297.53 521.17 298.67 521.15 300 520.8C301.33 520.45 302.68 519.97 304 519.7C305.32 519.43 306.34 519.38 307.9 519.2C310.52 518.9 315.53 518.12 319.7 517.9C323.87 517.68 329.83 517.58 332.9 517.9C335.1 518.13 336.38 518.41 338.1 519.8C339.85 521.22 341.65 524.1 343.4 526.4C345.15 528.7 346.85 531.52 348.6 533.6C350.35 535.68 352.37 537.75 353.9 538.9C355.25 539.91 356.11 540.5 357.8 540.5C359.55 540.5 362.43 538.73 364.4 538.9C366.37 539.07 367.85 540.08 369.6 541.5C371.35 542.92 373.13 544.88 374.9 547.4C376.67 549.92 378.38 553.22 380.2 556.6C382.02 559.98 384.33 565.08 385.8 567.7C386.9 569.66 388.03 571.3 389 572.3C389.82 573.15 390.77 573.75 391.6 573.7C392.43 573.65 393.27 572.88 394 572C394.73 571.12 395.4 569.93 396 568.4C397.22 565.32 399.55 559.18 401.3 553.5C403.05 547.82 404.9 539.7 406.5 534.3C408.08 528.96 409.68 523.95 410.9 521.1C411.66 519.31 412.87 518.08 413.8 517.2C414.68 516.37 416.05 516.08 416.5 515.85" stroke="#4A4A4A" stroke-width="1.35" fill="none" stroke-linejoin="round"/>
<path d="M231.5 515.8C232.6 516.25 235.64 517.05 238.1 518.5C240.73 520.05 244.45 522.58 247.3 525.1C250.15 527.62 253.08 531.62 255.2 533.6C256.92 535.21 258.47 536.12 260 537C261.53 537.88 262.78 539.13 264.4 538.9C266.02 538.67 267.99 537.42 269.7 535.6C271.45 533.73 273.15 530 274.9 527.7C276.65 525.4 278.55 523.22 280.2 521.8C281.8 520.42 283.75 519.42 284.8 519.2C285.64 519.03 286 519.8 286.5 520.5C287.05 521.27 287.74 522.38 288.1 523.8C288.8 526.53 289.83 531.87 290.7 536.9C291.57 541.93 292.53 549.72 293.3 554C293.92 557.48 294.75 560.87 295.3 562.6C295.57 563.45 296.07 564.42 296.6 564.4C297.13 564.38 297.8 563.18 298.5 562.5C299.2 561.82 300.13 560.47 300.8 560.3C301.47 560.13 302.1 560.77 302.5 561.5C303.02 562.43 303.46 564.11 303.9 565.9C304.57 568.6 305.64 572.94 306.5 577.7C307.37 582.52 308.22 588.88 309.1 594.8C309.98 600.72 311.07 608.33 311.8 613.2C312.45 617.52 313.09 621.63 313.5 624C313.74 625.37 314.07 626.62 314.25 627.4C314.37 627.91 314.41 628.44 314.6 628.65C314.79 628.86 315.21 628.86 315.4 628.65C315.59 628.44 315.65 627.91 315.75 627.4C315.9 626.62 316.11 625.36 316.3 624C316.62 621.63 317.26 617.53 317.7 613.2C318.37 606.58 319.62 592.67 320.3 584.3C320.98 575.93 321.42 569.15 321.8 563C322.18 556.85 322.18 553.28 322.6 547.4C323.02 541.52 323.73 532.47 324.3 527.7C324.73 524.1 325.42 520.55 326 518.8C326.3 517.89 326.84 517.23 327.8 517.2C335.18 516.93 363.22 517.2 370.3 517.2" stroke="#E94242" stroke-width="2.1" stroke-opacity="0.22" fill="none" stroke-linejoin="round"/>
<path d="M231.5 515.8C232.6 516.25 235.64 517.05 238.1 518.5C240.73 520.05 244.45 522.58 247.3 525.1C250.15 527.62 253.08 531.62 255.2 533.6C256.92 535.21 258.47 536.12 260 537C261.53 537.88 262.78 539.13 264.4 538.9C266.02 538.67 267.99 537.42 269.7 535.6C271.45 533.73 273.15 530 274.9 527.7C276.65 525.4 278.55 523.22 280.2 521.8C281.8 520.42 283.75 519.42 284.8 519.2C285.64 519.03 286 519.8 286.5 520.5C287.05 521.27 287.74 522.38 288.1 523.8C288.8 526.53 289.83 531.87 290.7 536.9C291.57 541.93 292.53 549.72 293.3 554C293.92 557.48 294.75 560.87 295.3 562.6C295.57 563.45 296.07 564.42 296.6 564.4C297.13 564.38 297.8 563.18 298.5 562.5C299.2 561.82 300.13 560.47 300.8 560.3C301.47 560.13 302.1 560.77 302.5 561.5C303.02 562.43 303.46 564.11 303.9 565.9C304.57 568.6 305.64 572.94 306.5 577.7C307.37 582.52 308.22 588.88 309.1 594.8C309.98 600.72 311.07 608.33 311.8 613.2C312.45 617.52 313.09 621.63 313.5 624C313.74 625.37 314.07 626.62 314.25 627.4C314.37 627.91 314.41 628.44 314.6 628.65C314.79 628.86 315.21 628.86 315.4 628.65C315.59 628.44 315.65 627.91 315.75 627.4C315.9 626.62 316.11 625.36 316.3 624C316.62 621.63 317.26 617.53 317.7 613.2C318.37 606.58 319.62 592.67 320.3 584.3C320.98 575.93 321.42 569.15 321.8 563C322.18 556.85 322.18 553.28 322.6 547.4C323.02 541.52 323.73 532.47 324.3 527.7C324.73 524.1 325.42 520.55 326 518.8C326.3 517.89 326.84 517.23 327.8 517.2C335.18 516.93 363.22 517.2 370.3 517.2" stroke="#E94242" stroke-width="1.25" fill="none" stroke-linejoin="round"/>
<path d="M231.5 515.8C232.6 516.68 235.82 518.6 238.1 521.1C240.52 523.75 243.58 528.52 246 531.7C248.42 534.88 251.1 538.4 252.6 540.2C253.45 541.22 254.23 542 255 542.5C255.77 543 256.37 543.45 257.2 543.2C258.03 542.95 259.03 542.04 260 541C260.98 539.95 262.1 538.4 263.1 536.9C264.1 535.4 265.12 533.35 266 532C266.88 530.66 267.82 529.05 268.4 528.8C268.98 528.55 269.24 529.73 269.5 530.5C269.82 531.42 270.05 532.77 270.3 534.3C270.77 537.12 271.68 542.78 272.3 547.4C272.92 552.02 273.45 556.95 274 562C274.55 567.05 274.88 572.23 275.6 577.7C276.32 583.17 277.32 590.2 278.3 594.8C279.22 599.09 280.67 601.58 281.5 605.3C282.33 609.02 282.85 613.48 283.3 617.1C283.75 620.72 283.91 623.03 284.2 627C284.57 631.93 285.05 641.95 285.5 646.7C285.84 650.25 286.66 653.77 286.9 655.5C286.99 656.13 286.88 656.62 286.95 657.1C287.02 657.58 287.11 658.14 287.3 658.35C287.49 658.56 287.91 658.56 288.1 658.35C288.29 658.14 288.38 657.58 288.45 657.1C288.52 656.62 288.4 656.13 288.5 655.5C288.77 653.77 289.72 650.26 290.1 646.7C290.58 642.12 291.01 635.49 291.4 628C291.83 619.78 292.18 608.23 292.7 597.4C293.22 586.57 293.95 571.33 294.5 563C294.91 556.74 295.53 553.28 296 547.4C296.47 541.52 296.88 532.4 297.3 527.7C297.6 524.28 298.02 520.95 298.5 519.2C298.78 518.19 299.15 517.28 300.2 517.2C304.5 516.87 320.28 517.2 324.3 517.2" stroke="#1F6FDC" stroke-width="2.1" stroke-opacity="0.22" fill="none" stroke-linejoin="round"/>
<path d="M231.5 515.8C232.6 516.68 235.82 518.6 238.1 521.1C240.52 523.75 243.58 528.52 246 531.7C248.42 534.88 251.1 538.4 252.6 540.2C253.45 541.22 254.23 542 255 542.5C255.77 543 256.37 543.45 257.2 543.2C258.03 542.95 259.03 542.04 260 541C260.98 539.95 262.1 538.4 263.1 536.9C264.1 535.4 265.12 533.35 266 532C266.88 530.66 267.82 529.05 268.4 528.8C268.98 528.55 269.24 529.73 269.5 530.5C269.82 531.42 270.05 532.77 270.3 534.3C270.77 537.12 271.68 542.78 272.3 547.4C272.92 552.02 273.45 556.95 274 562C274.55 567.05 274.88 572.23 275.6 577.7C276.32 583.17 277.32 590.2 278.3 594.8C279.22 599.09 280.67 601.58 281.5 605.3C282.33 609.02 282.85 613.48 283.3 617.1C283.75 620.72 283.91 623.03 284.2 627C284.57 631.93 285.05 641.95 285.5 646.7C285.84 650.25 286.66 653.77 286.9 655.5C286.99 656.13 286.88 656.62 286.95 657.1C287.02 657.58 287.11 658.14 287.3 658.35C287.49 658.56 287.91 658.56 288.1 658.35C288.29 658.14 288.38 657.58 288.45 657.1C288.52 656.62 288.4 656.13 288.5 655.5C288.77 653.77 289.72 650.26 290.1 646.7C290.58 642.12 291.01 635.49 291.4 628C291.83 619.78 292.18 608.23 292.7 597.4C293.22 586.57 293.95 571.33 294.5 563C294.91 556.74 295.53 553.28 296 547.4C296.47 541.52 296.88 532.4 297.3 527.7C297.6 524.28 298.02 520.95 298.5 519.2C298.78 518.19 299.15 517.28 300.2 517.2C304.5 516.87 320.28 517.2 324.3 517.2" stroke="#1F6FDC" stroke-width="1.25" fill="none" stroke-linejoin="round"/>
<path d="M231.5 515.8C232.6 517.35 235.98 521.06 238.1 525.1C240.3 529.28 243.08 537.33 244.7 540.9C245.76 543.23 246.85 545.2 247.8 546.5C248.6 547.6 249.53 548.7 250.4 548.7C251.27 548.7 252.2 547.58 253 546.5C253.8 545.42 254.5 543.78 255.2 542.2C255.9 540.62 256.65 538.1 257.2 537C257.54 536.32 258.1 535.35 258.5 535.6C258.9 535.85 259.34 537.29 259.6 538.5C259.93 540.03 260.19 542.27 260.5 544.8C260.87 547.82 261.45 553.57 261.8 556.6C262.1 559.16 262.39 560.43 262.6 563C263.15 569.8 264.2 586.57 265.1 597.4C266 608.23 267.02 617.17 268 628C268.98 638.83 270.23 653.82 271 662.4C271.61 669.24 272.33 676.03 272.6 679.5C272.72 680.98 272.58 682.38 272.65 683.2C272.69 683.72 272.81 684.24 273 684.45C273.19 684.66 273.61 684.66 273.8 684.45C273.99 684.24 274.11 683.72 274.15 683.2C274.22 682.38 274.07 680.97 274.2 679.5C274.51 676.03 275.52 669.26 276 662.4C276.6 653.82 277.27 638.83 277.8 628C278.33 617.17 278.77 608.23 279.2 597.4C279.63 586.57 280.07 571.33 280.4 563C280.65 556.76 280.83 553.28 281.2 547.4C281.57 541.52 282.17 532.4 282.6 527.7C282.92 524.28 283.32 520.95 283.8 519.2C284.08 518.19 284.46 517.32 285.5 517.2C288.3 516.87 298.08 517.2 300.6 517.2" stroke="#37AB69" stroke-width="2.1" stroke-opacity="0.22" fill="none" stroke-linejoin="round"/>
<path d="M231.5 515.8C232.6 517.35 235.98 521.06 238.1 525.1C240.3 529.28 243.08 537.33 244.7 540.9C245.76 543.23 246.85 545.2 247.8 546.5C248.6 547.6 249.53 548.7 250.4 548.7C251.27 548.7 252.2 547.58 253 546.5C253.8 545.42 254.5 543.78 255.2 542.2C255.9 540.62 256.65 538.1 257.2 537C257.54 536.32 258.1 535.35 258.5 535.6C258.9 535.85 259.34 537.29 259.6 538.5C259.93 540.03 260.19 542.27 260.5 544.8C260.87 547.82 261.45 553.57 261.8 556.6C262.1 559.16 262.39 560.43 262.6 563C263.15 569.8 264.2 586.57 265.1 597.4C266 608.23 267.02 617.17 268 628C268.98 638.83 270.23 653.82 271 662.4C271.61 669.24 272.33 676.03 272.6 679.5C272.72 680.98 272.58 682.38 272.65 683.2C272.69 683.72 272.81 684.24 273 684.45C273.19 684.66 273.61 684.66 273.8 684.45C273.99 684.24 274.11 683.72 274.15 683.2C274.22 682.38 274.07 680.97 274.2 679.5C274.51 676.03 275.52 669.26 276 662.4C276.6 653.82 277.27 638.83 277.8 628C278.33 617.17 278.77 608.23 279.2 597.4C279.63 586.57 280.07 571.33 280.4 563C280.65 556.76 280.83 553.28 281.2 547.4C281.57 541.52 282.17 532.4 282.6 527.7C282.92 524.28 283.32 520.95 283.8 519.2C284.08 518.19 284.46 517.32 285.5 517.2C288.3 516.87 298.08 517.2 300.6 517.2" stroke="#37AB69" stroke-width="1.25" fill="none" stroke-linejoin="round"/>
<text transform="translate(227.3 517.55) matrix(1 0.003 0 1 0 0)" font-size="8" font-weight="bold" fill="#000" text-anchor="end" textLength="11.2" lengthAdjust="spacingAndGlyphs" stroke="#000" stroke-width="0.15">0.0</text>
<text transform="translate(227.3 567.86) matrix(1 0.003 0 1 0 0)" font-size="8" font-weight="bold" fill="#000" text-anchor="end" textLength="13.3" lengthAdjust="spacingAndGlyphs" stroke="#000" stroke-width="0.15">-0.1</text>
<text transform="translate(227.3 618.18) matrix(1 0.003 0 1 0 0)" font-size="8" font-weight="bold" fill="#000" text-anchor="end" textLength="13.3" lengthAdjust="spacingAndGlyphs" stroke="#000" stroke-width="0.15">-0.2</text>
<text transform="translate(227.3 668.49) matrix(1 0.003 0 1 0 0)" font-size="8" font-weight="bold" fill="#000" text-anchor="end" textLength="13.3" lengthAdjust="spacingAndGlyphs" stroke="#000" stroke-width="0.15">-0.3</text>
<text transform="translate(227.3 718.8) matrix(1 0.003 0 1 0 0)" font-size="8" font-weight="bold" fill="#000" text-anchor="end" textLength="13.3" lengthAdjust="spacingAndGlyphs" stroke="#000" stroke-width="0.15">-0.4</text>
<text transform="translate(231.4 727.3) matrix(1 0.003 0 1 0 0)" font-size="8" font-weight="bold" fill="#000" text-anchor="middle" textLength="4.3" lengthAdjust="spacingAndGlyphs" stroke="#000" stroke-width="0.15">0</text>
<text transform="translate(293.82 727.3) matrix(1 0.003 0 1 0 0)" font-size="8" font-weight="bold" fill="#000" text-anchor="middle" textLength="17.1" lengthAdjust="spacingAndGlyphs" stroke="#000" stroke-width="0.15">1000</text>
<text transform="translate(356.25 727.3) matrix(1 0.003 0 1 0 0)" font-size="8" font-weight="bold" fill="#000" text-anchor="middle" textLength="17.1" lengthAdjust="spacingAndGlyphs" stroke="#000" stroke-width="0.15">2000</text>
<text transform="translate(418.68 727.3) matrix(1 0.003 0 1 0 0)" font-size="8" font-weight="bold" fill="#000" text-anchor="middle" textLength="17.1" lengthAdjust="spacingAndGlyphs" stroke="#000" stroke-width="0.15">3000</text>
<text transform="translate(481.1 727.3) matrix(1 0.003 0 1 0 0)" font-size="8" font-weight="bold" fill="#000" text-anchor="middle" textLength="17.1" lengthAdjust="spacingAndGlyphs" stroke="#000" stroke-width="0.15">4000</text>
<text transform="translate(346.35 743.2) matrix(1 0.003 0 1 0 0)" font-size="11" font-weight="bold" fill="#000" textLength="3.9" lengthAdjust="spacingAndGlyphs" font-style="italic" stroke="#000" stroke-width="0.3">t</text>
<text transform="translate(353.25 745) matrix(1 0.003 0 1 0 0)" font-size="14.5" font-weight="normal" fill="#000" textLength="4.9" lengthAdjust="spacingAndGlyphs" stroke="#000" stroke-width="0.3">/</text>
<text transform="translate(361.55 743.2) matrix(1 0.003 0 1 0 0)" font-size="10.6" font-weight="bold" fill="#000" textLength="4.8" lengthAdjust="spacingAndGlyphs" stroke="#000" stroke-width="0.3">s</text>
<g transform="translate(202.2 656.95) rotate(-90)">
<text transform="translate(0 0) matrix(1 0.003 0 1 0 0)" font-size="10.8" font-weight="bold" fill="#000" textLength="84.3" lengthAdjust="spacingAndGlyphs" stroke="#000" stroke-width="0.15">Deriv mass / %·s</text>
<text transform="translate(84.7 -4.8) matrix(1 0.003 0 1 0 0)" font-size="8.2" font-weight="bold" fill="#000" textLength="6" lengthAdjust="spacingAndGlyphs">-1</text>
</g>
<path d="M406.2 651.9 H426.3" stroke="#4A4A4A" stroke-width="2.3" stroke-opacity="0.25"/>
<path d="M406.2 651.9 H426.3" stroke="#4A4A4A" stroke-width="1.4"/>
<text transform="translate(428.5 654.5) matrix(1 0.003 0 1 0 0)" font-size="10.2" font-weight="bold" fill="#000" textLength="30.3" lengthAdjust="spacingAndGlyphs" stroke="#000" stroke-width="0.15">5K·min</text>
<text transform="translate(459.3 652) matrix(1 0.003 0 1 0 0)" font-size="9.9" font-weight="bold" fill="#000" textLength="8" lengthAdjust="spacingAndGlyphs">-1</text>
<path d="M406.2 669.93 H426.3" stroke="#E94242" stroke-width="2.3" stroke-opacity="0.25"/>
<path d="M406.2 669.93 H426.3" stroke="#E94242" stroke-width="1.4"/>
<text transform="translate(429 672.53) matrix(1 0.003 0 1 0 0)" font-size="10.2" font-weight="bold" fill="#000" textLength="35.9" lengthAdjust="spacingAndGlyphs" stroke="#000" stroke-width="0.15">10K·min</text>
<text transform="translate(465.6 670.03) matrix(1 0.003 0 1 0 0)" font-size="9.9" font-weight="bold" fill="#000" textLength="8" lengthAdjust="spacingAndGlyphs">-1</text>
<path d="M406.2 687.96 H426.3" stroke="#1F6FDC" stroke-width="2.3" stroke-opacity="0.25"/>
<path d="M406.2 687.96 H426.3" stroke="#1F6FDC" stroke-width="1.4"/>
<text transform="translate(429 690.56) matrix(1 0.003 0 1 0 0)" font-size="10.2" font-weight="bold" fill="#000" textLength="35.9" lengthAdjust="spacingAndGlyphs" stroke="#000" stroke-width="0.15">15K·min</text>
<text transform="translate(465.6 688.06) matrix(1 0.003 0 1 0 0)" font-size="9.9" font-weight="bold" fill="#000" textLength="8" lengthAdjust="spacingAndGlyphs">-1</text>
<path d="M406.2 705.99 H426.3" stroke="#37AB69" stroke-width="2.3" stroke-opacity="0.25"/>
<path d="M406.2 705.99 H426.3" stroke="#37AB69" stroke-width="1.4"/>
<text transform="translate(429 708.59) matrix(1 0.003 0 1 0 0)" font-size="10.2" font-weight="bold" fill="#000" textLength="35.9" lengthAdjust="spacingAndGlyphs" stroke="#000" stroke-width="0.15">20K·min</text>
<text transform="translate(465.6 706.09) matrix(1 0.003 0 1 0 0)" font-size="9.9" font-weight="bold" fill="#000" textLength="8" lengthAdjust="spacingAndGlyphs">-1</text>
<text transform="translate(459.9 543.2) matrix(1 0.003 0 1 0 0)" font-size="14.5" font-weight="bold" fill="#000" textLength="7.3" lengthAdjust="spacingAndGlyphs" stroke="#000" stroke-width="0.3">5</text>
<text transform="translate(467.9 536.6) matrix(1 0.003 0 1 0 0)" font-size="10.5" font-weight="bold" fill="#000" textLength="5.6" lengthAdjust="spacingAndGlyphs" stroke="#000" stroke-width="0.35">#</text>
<text transform="translate(397.4 592.2) matrix(1 0.003 0 1 0 0)" font-size="7.6" font-weight="normal" fill="#4A4A4A" textLength="44.9" lengthAdjust="spacingAndGlyphs" stroke="#4A4A4A" stroke-width="0.35">Peak <tspan font-style="italic">t</tspan>:2560s</text>
<path d="M416 583.5 L404.06 572.09" stroke="#4A4A4A" stroke-width="0.45" fill="none"/>
<path d="M400.3 568.5L402.95 573.25L405.17 570.94Z" fill="#4A4A4A"/>
<text transform="translate(319 645.9) matrix(1 0.003 0 1 0 0)" font-size="7.6" font-weight="bold" fill="#E94242" textLength="44.9" lengthAdjust="spacingAndGlyphs" stroke="#E94242" stroke-width="0.15">Peak <tspan font-style="italic">t</tspan>:1343s</text>
<path d="M337.2 635.6 L324.5 622.35" stroke="#E94242" stroke-width="0.45" fill="none"/>
<path d="M320.9 618.6L323.34 623.46L325.65 621.25Z" fill="#E94242"/>
<text transform="translate(292.3 670.6) matrix(1 0.003 0 1 0 0)" font-size="7.6" font-weight="bold" fill="#1F6FDC" textLength="40.2" lengthAdjust="spacingAndGlyphs" stroke="#1F6FDC" stroke-width="0.15">Peak <tspan font-style="italic">t</tspan>:905s</text>
<path d="M310.2 661.1 L296.9 648.65" stroke="#1F6FDC" stroke-width="0.45" fill="none"/>
<path d="M293.1 645.1L295.8 649.82L297.99 647.48Z" fill="#1F6FDC"/>
<text transform="translate(279.2 697.2) matrix(1 0.003 0 1 0 0)" font-size="7.6" font-weight="bold" fill="#37AB69" textLength="39.8" lengthAdjust="spacingAndGlyphs" stroke="#37AB69" stroke-width="0.15">Peak <tspan font-style="italic">t</tspan>:678s</text>
<path d="M294.7 687.1 L282.08 675.17" stroke="#37AB69" stroke-width="0.45" fill="none"/>
<path d="M278.3 671.6L280.98 676.33L283.18 674.01Z" fill="#37AB69"/>
</g>
</svg></body></html>
